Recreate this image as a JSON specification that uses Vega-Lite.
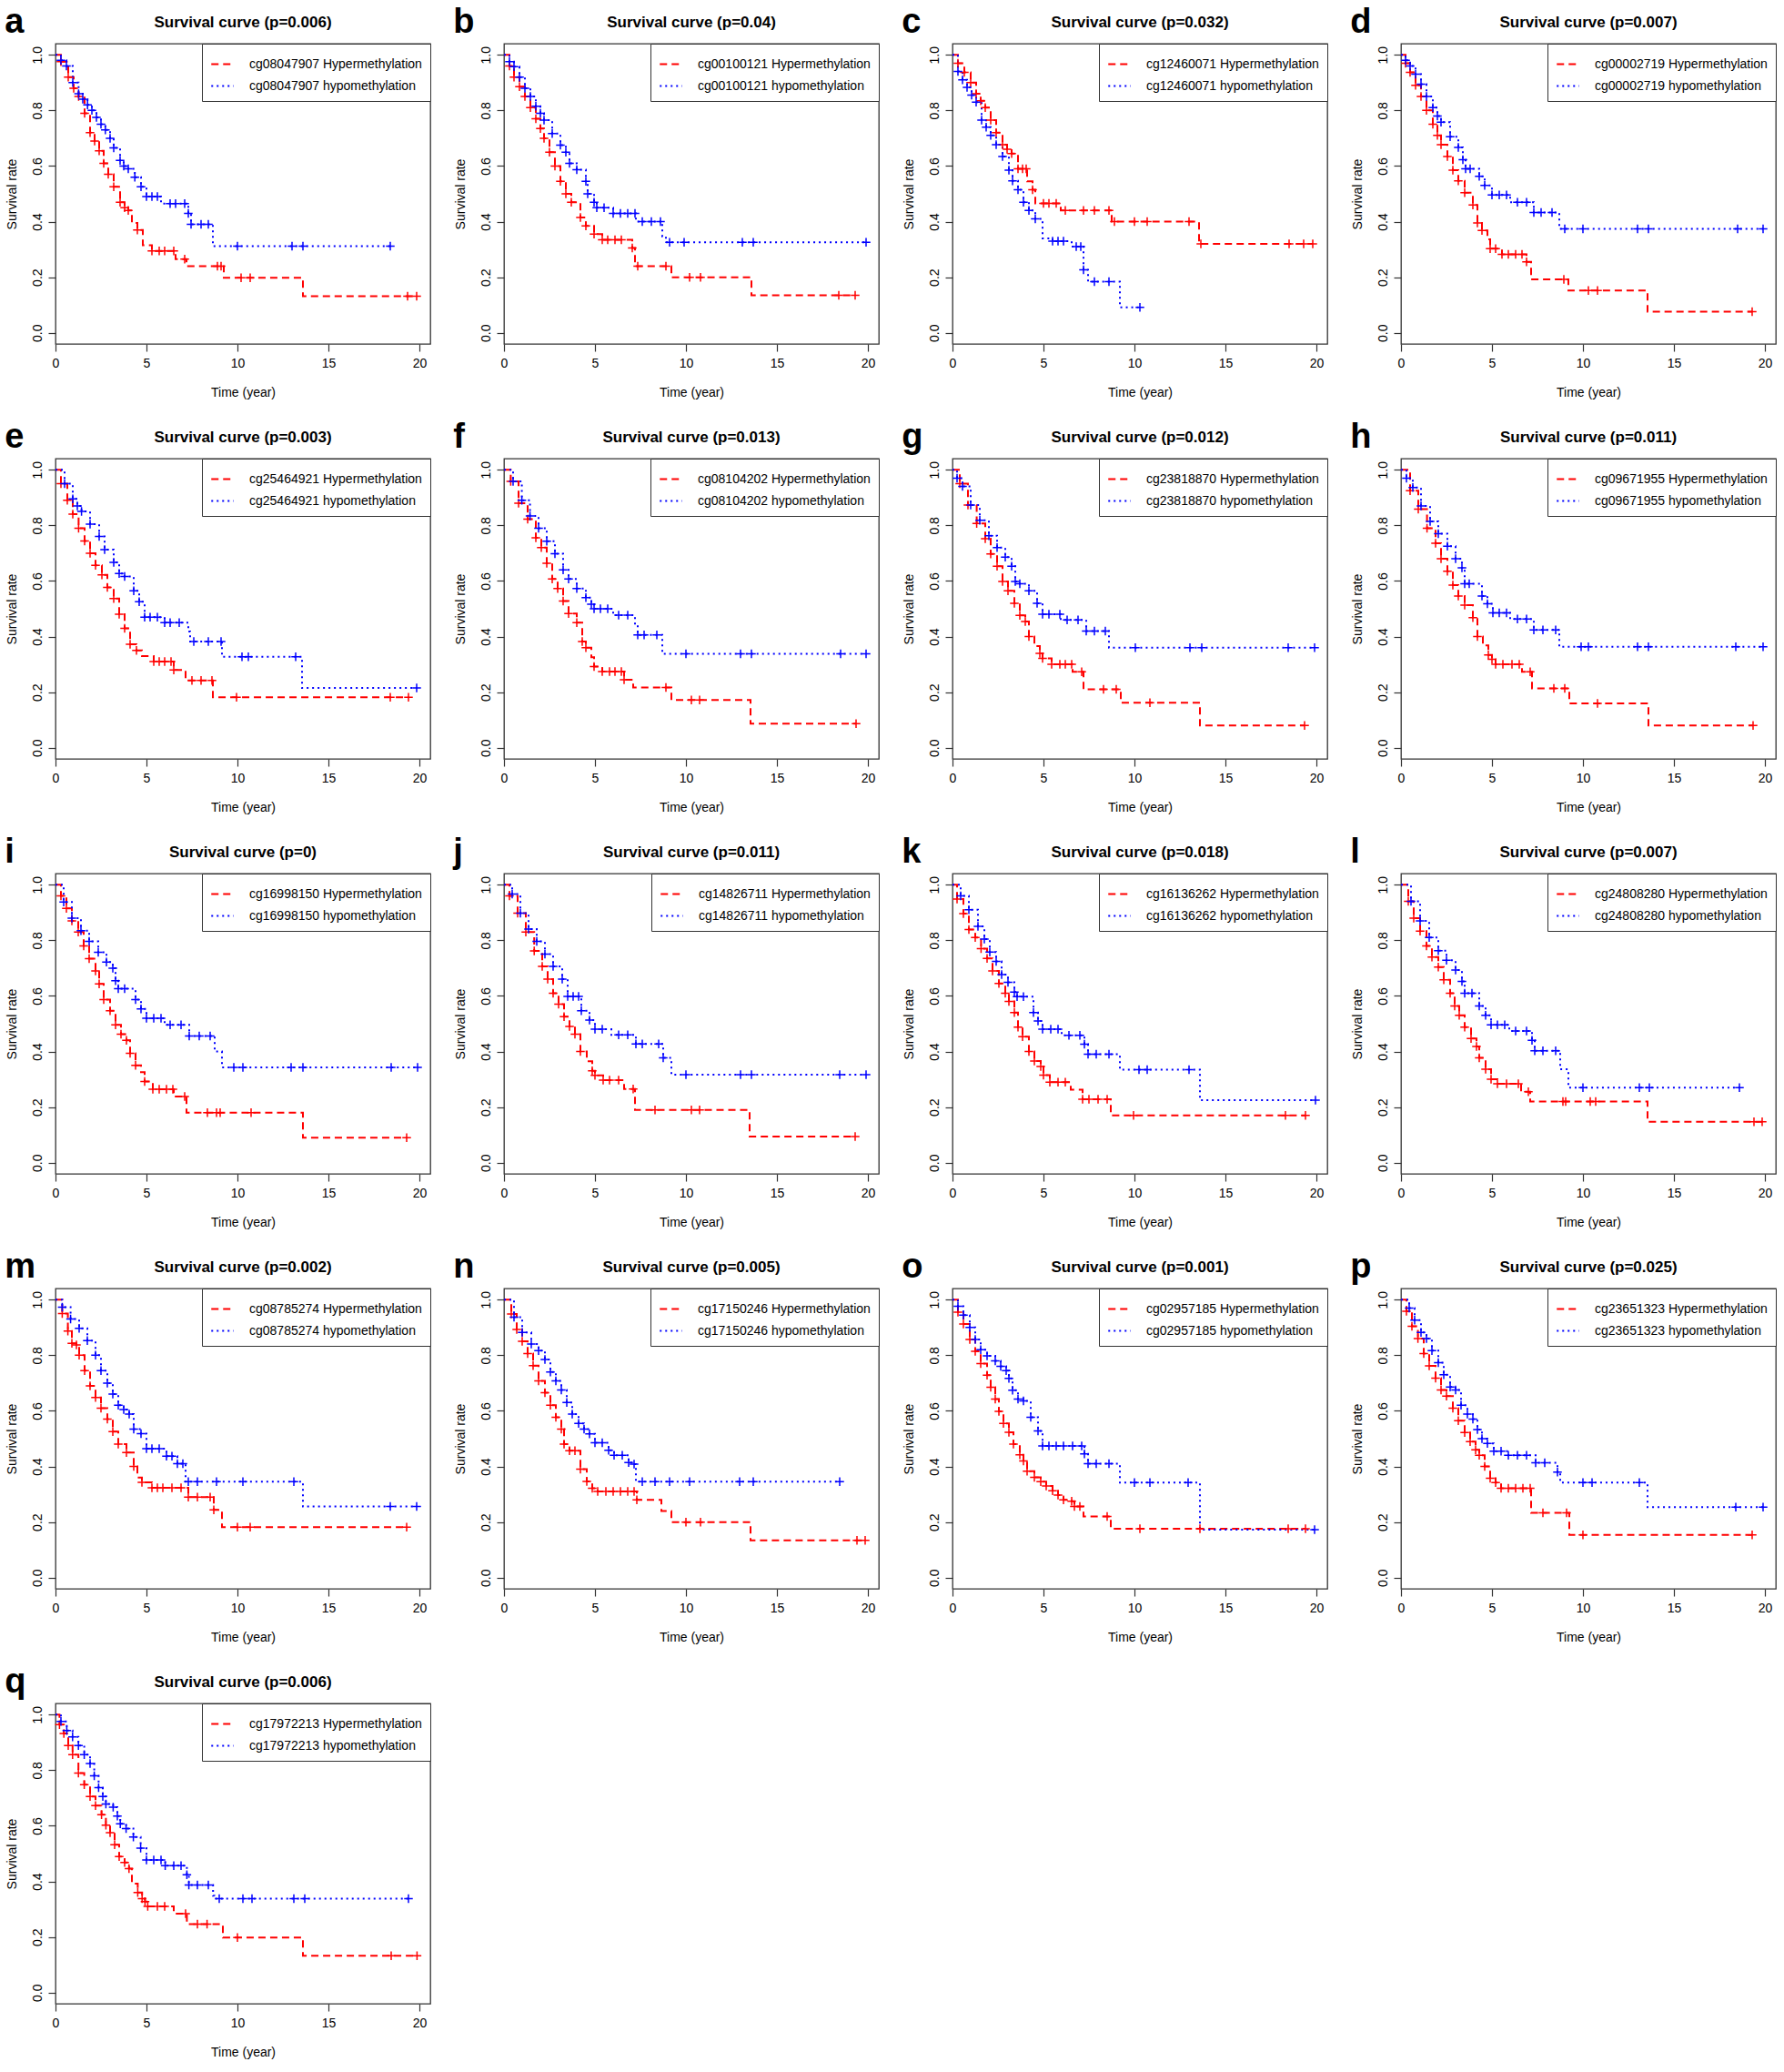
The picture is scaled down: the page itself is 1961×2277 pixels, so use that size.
{
"$schema": "https://vega.github.io/schema/vega-lite/v6.json",
"background": "white",
"padding": 5,
"config": {
  "font": "Liberation Sans",
  "view": {"stroke": "#333", "strokeWidth": 1.3},
  "title": {"font": "Liberation Sans", "fontSize": 17, "fontWeight": "bold", "color": "black", "offset": 14, "anchor": "middle"},
  "axis": {"grid": false, "domain": false, "tickColor": "#333", "tickSize": 8, "tickWidth": 1.2, "labelFont": "Liberation Sans", "labelFontSize": 14, "labelColor": "black", "titleFont": "Liberation Sans", "titleFontSize": 14, "titleFontWeight": "normal", "titleColor": "black"},
  "axisX": {"labelPadding": 6, "titlePadding": 18, "tickCount": 5, "labelFlush": false},
  "axisY": {"labelAngle": -90, "labelAlign": "center", "labelBaseline": "bottom", "labelPadding": 5, "titlePadding": 14, "tickCount": 6, "labelFlush": false},
  "legend": {"orient": "top-right", "offset": 0, "padding": 9, "strokeColor": "#333", "fillColor": "white", "symbolType": "stroke", "symbolSize": 600, "symbolStrokeWidth": 2, "labelFont": "Liberation Sans", "labelFontSize": 14, "labelColor": "black", "labelOffset": 16, "rowPadding": 3, "labelLimit": 400}
},
"data": {"values": [
{"p":"a","g":"H","t":0,"s":1,"c":0},{"p":"a","g":"H","t":0.3,"s":0.975,"c":1},{"p":"a","g":"H","t":0.7,"s":0.92,"c":1},{"p":"a","g":"H","t":1.0,"s":0.88,"c":1},{"p":"a","g":"H","t":1.27,"s":0.85,"c":1},{"p":"a","g":"H","t":1.6,"s":0.79,"c":1},{"p":"a","g":"H","t":1.9,"s":0.72,"c":1},{"p":"a","g":"H","t":2.15,"s":0.69,"c":1},{"p":"a","g":"H","t":2.4,"s":0.655,"c":1},{"p":"a","g":"H","t":2.65,"s":0.61,"c":1},{"p":"a","g":"H","t":2.9,"s":0.57,"c":1},{"p":"a","g":"H","t":3.2,"s":0.525,"c":1},{"p":"a","g":"H","t":3.55,"s":0.47,"c":1},{"p":"a","g":"H","t":3.8,"s":0.45,"c":1},{"p":"a","g":"H","t":4.0,"s":0.44,"c":1},{"p":"a","g":"H","t":4.2,"s":0.395,"c":0},{"p":"a","g":"H","t":4.5,"s":0.37,"c":1},{"p":"a","g":"H","t":4.8,"s":0.315,"c":0},{"p":"a","g":"H","t":5.3,"s":0.295,"c":1},{"p":"a","g":"H","t":5.7,"s":0.295,"c":1},{"p":"a","g":"H","t":6.0,"s":0.295,"c":1},{"p":"a","g":"H","t":6.5,"s":0.295,"c":1},{"p":"a","g":"H","t":6.6,"s":0.265,"c":0},{"p":"a","g":"H","t":7.1,"s":0.265,"c":1},{"p":"a","g":"H","t":7.2,"s":0.24,"c":0},{"p":"a","g":"H","t":8.9,"s":0.24,"c":1},{"p":"a","g":"H","t":9.1,"s":0.24,"c":1},{"p":"a","g":"H","t":9.25,"s":0.198,"c":0},{"p":"a","g":"H","t":10.2,"s":0.198,"c":1},{"p":"a","g":"H","t":10.7,"s":0.198,"c":1},{"p":"a","g":"H","t":13.6,"s":0.132,"c":0},{"p":"a","g":"H","t":19.35,"s":0.132,"c":1},{"p":"a","g":"H","t":19.85,"s":0.132,"c":1},
{"p":"a","g":"L","t":0,"s":1,"c":0},{"p":"a","g":"L","t":0.3,"s":0.98,"c":1},{"p":"a","g":"L","t":0.6,"s":0.96,"c":1},{"p":"a","g":"L","t":0.95,"s":0.9,"c":1},{"p":"a","g":"L","t":1.27,"s":0.86,"c":1},{"p":"a","g":"L","t":1.5,"s":0.84,"c":1},{"p":"a","g":"L","t":1.76,"s":0.82,"c":1},{"p":"a","g":"L","t":2.0,"s":0.8,"c":1},{"p":"a","g":"L","t":2.25,"s":0.775,"c":1},{"p":"a","g":"L","t":2.5,"s":0.75,"c":1},{"p":"a","g":"L","t":2.74,"s":0.73,"c":1},{"p":"a","g":"L","t":3.0,"s":0.7,"c":1},{"p":"a","g":"L","t":3.2,"s":0.665,"c":1},{"p":"a","g":"L","t":3.55,"s":0.62,"c":1},{"p":"a","g":"L","t":3.75,"s":0.6,"c":1},{"p":"a","g":"L","t":4.0,"s":0.59,"c":1},{"p":"a","g":"L","t":4.36,"s":0.56,"c":1},{"p":"a","g":"L","t":4.7,"s":0.525,"c":1},{"p":"a","g":"L","t":5.0,"s":0.49,"c":1},{"p":"a","g":"L","t":5.3,"s":0.49,"c":1},{"p":"a","g":"L","t":5.6,"s":0.49,"c":1},{"p":"a","g":"L","t":5.8,"s":0.465,"c":0},{"p":"a","g":"L","t":6.3,"s":0.465,"c":1},{"p":"a","g":"L","t":6.6,"s":0.465,"c":1},{"p":"a","g":"L","t":7.1,"s":0.465,"c":1},{"p":"a","g":"L","t":7.3,"s":0.43,"c":1},{"p":"a","g":"L","t":7.45,"s":0.39,"c":1},{"p":"a","g":"L","t":8.0,"s":0.39,"c":1},{"p":"a","g":"L","t":8.4,"s":0.39,"c":1},{"p":"a","g":"L","t":8.65,"s":0.312,"c":0},{"p":"a","g":"L","t":10.0,"s":0.312,"c":1},{"p":"a","g":"L","t":13.0,"s":0.312,"c":1},{"p":"a","g":"L","t":13.6,"s":0.312,"c":1},{"p":"a","g":"L","t":18.4,"s":0.312,"c":1},

{"p":"b","g":"H","t":0,"s":1,"c":0},{"p":"b","g":"H","t":0.3,"s":0.96,"c":1},{"p":"b","g":"H","t":0.55,"s":0.92,"c":1},{"p":"b","g":"H","t":0.85,"s":0.885,"c":1},{"p":"b","g":"H","t":1.15,"s":0.85,"c":1},{"p":"b","g":"H","t":1.45,"s":0.81,"c":1},{"p":"b","g":"H","t":1.75,"s":0.77,"c":1},{"p":"b","g":"H","t":2.0,"s":0.735,"c":1},{"p":"b","g":"H","t":2.2,"s":0.7,"c":1},{"p":"b","g":"H","t":2.5,"s":0.65,"c":1},{"p":"b","g":"H","t":2.8,"s":0.6,"c":1},{"p":"b","g":"H","t":3.1,"s":0.545,"c":1},{"p":"b","g":"H","t":3.4,"s":0.5,"c":1},{"p":"b","g":"H","t":3.7,"s":0.47,"c":1},{"p":"b","g":"H","t":4.2,"s":0.415,"c":1},{"p":"b","g":"H","t":4.5,"s":0.385,"c":1},{"p":"b","g":"H","t":4.95,"s":0.355,"c":1},{"p":"b","g":"H","t":5.4,"s":0.335,"c":1},{"p":"b","g":"H","t":5.7,"s":0.335,"c":1},{"p":"b","g":"H","t":6.1,"s":0.335,"c":1},{"p":"b","g":"H","t":6.45,"s":0.335,"c":1},{"p":"b","g":"H","t":7.05,"s":0.305,"c":1},{"p":"b","g":"H","t":7.2,"s":0.24,"c":0},{"p":"b","g":"H","t":7.35,"s":0.24,"c":1},{"p":"b","g":"H","t":8.9,"s":0.24,"c":1},{"p":"b","g":"H","t":9.2,"s":0.2,"c":0},{"p":"b","g":"H","t":10.2,"s":0.2,"c":1},{"p":"b","g":"H","t":10.8,"s":0.2,"c":1},{"p":"b","g":"H","t":13.6,"s":0.135,"c":0},{"p":"b","g":"H","t":18.4,"s":0.135,"c":1},{"p":"b","g":"H","t":19.3,"s":0.135,"c":1},
{"p":"b","g":"L","t":0,"s":1,"c":0},{"p":"b","g":"L","t":0.3,"s":0.975,"c":1},{"p":"b","g":"L","t":0.55,"s":0.957,"c":1},{"p":"b","g":"L","t":0.85,"s":0.92,"c":1},{"p":"b","g":"L","t":1.15,"s":0.88,"c":1},{"p":"b","g":"L","t":1.45,"s":0.85,"c":1},{"p":"b","g":"L","t":1.75,"s":0.815,"c":1},{"p":"b","g":"L","t":2.0,"s":0.79,"c":1},{"p":"b","g":"L","t":2.2,"s":0.765,"c":1},{"p":"b","g":"L","t":2.65,"s":0.717,"c":1},{"p":"b","g":"L","t":3.1,"s":0.675,"c":1},{"p":"b","g":"L","t":3.4,"s":0.65,"c":1},{"p":"b","g":"L","t":3.6,"s":0.61,"c":1},{"p":"b","g":"L","t":4.0,"s":0.587,"c":1},{"p":"b","g":"L","t":4.5,"s":0.545,"c":1},{"p":"b","g":"L","t":4.6,"s":0.5,"c":1},{"p":"b","g":"L","t":4.95,"s":0.47,"c":1},{"p":"b","g":"L","t":5.1,"s":0.45,"c":1},{"p":"b","g":"L","t":5.5,"s":0.45,"c":1},{"p":"b","g":"L","t":6.0,"s":0.43,"c":1},{"p":"b","g":"L","t":6.4,"s":0.43,"c":1},{"p":"b","g":"L","t":6.8,"s":0.43,"c":1},{"p":"b","g":"L","t":7.2,"s":0.43,"c":1},{"p":"b","g":"L","t":7.25,"s":0.4,"c":0},{"p":"b","g":"L","t":7.6,"s":0.4,"c":1},{"p":"b","g":"L","t":8.1,"s":0.4,"c":1},{"p":"b","g":"L","t":8.6,"s":0.4,"c":1},{"p":"b","g":"L","t":8.7,"s":0.347,"c":0},{"p":"b","g":"L","t":8.9,"s":0.326,"c":0},{"p":"b","g":"L","t":9.1,"s":0.326,"c":1},{"p":"b","g":"L","t":9.9,"s":0.326,"c":1},{"p":"b","g":"L","t":13.1,"s":0.326,"c":1},{"p":"b","g":"L","t":13.7,"s":0.326,"c":1},{"p":"b","g":"L","t":19.9,"s":0.326,"c":1},

{"p":"c","g":"H","t":0,"s":1,"c":0},{"p":"c","g":"H","t":0.3,"s":0.97,"c":1},{"p":"c","g":"H","t":0.65,"s":0.937,"c":1},{"p":"c","g":"H","t":1.0,"s":0.9,"c":1},{"p":"c","g":"H","t":1.3,"s":0.86,"c":1},{"p":"c","g":"H","t":1.55,"s":0.835,"c":1},{"p":"c","g":"H","t":1.8,"s":0.81,"c":1},{"p":"c","g":"H","t":2.1,"s":0.765,"c":1},{"p":"c","g":"H","t":2.4,"s":0.72,"c":1},{"p":"c","g":"H","t":2.75,"s":0.677,"c":1},{"p":"c","g":"H","t":3.0,"s":0.66,"c":1},{"p":"c","g":"H","t":3.25,"s":0.645,"c":1},{"p":"c","g":"H","t":3.6,"s":0.59,"c":1},{"p":"c","g":"H","t":3.85,"s":0.59,"c":1},{"p":"c","g":"H","t":4.05,"s":0.59,"c":1},{"p":"c","g":"H","t":4.1,"s":0.545,"c":0},{"p":"c","g":"H","t":4.4,"s":0.515,"c":1},{"p":"c","g":"H","t":4.55,"s":0.466,"c":0},{"p":"c","g":"H","t":5.0,"s":0.466,"c":1},{"p":"c","g":"H","t":5.3,"s":0.466,"c":1},{"p":"c","g":"H","t":5.7,"s":0.466,"c":1},{"p":"c","g":"H","t":5.95,"s":0.44,"c":0},{"p":"c","g":"H","t":6.2,"s":0.44,"c":1},{"p":"c","g":"H","t":7.2,"s":0.44,"c":1},{"p":"c","g":"H","t":7.8,"s":0.44,"c":1},{"p":"c","g":"H","t":8.6,"s":0.44,"c":1},{"p":"c","g":"H","t":8.75,"s":0.4,"c":0},{"p":"c","g":"H","t":8.9,"s":0.4,"c":1},{"p":"c","g":"H","t":10.0,"s":0.4,"c":1},{"p":"c","g":"H","t":10.7,"s":0.4,"c":1},{"p":"c","g":"H","t":13.0,"s":0.4,"c":1},{"p":"c","g":"H","t":13.55,"s":0.32,"c":0},{"p":"c","g":"H","t":13.65,"s":0.32,"c":1},{"p":"c","g":"H","t":18.5,"s":0.32,"c":1},{"p":"c","g":"H","t":19.3,"s":0.32,"c":1},{"p":"c","g":"H","t":19.8,"s":0.32,"c":1},
{"p":"c","g":"L","t":0,"s":1,"c":0},{"p":"c","g":"L","t":0.3,"s":0.94,"c":1},{"p":"c","g":"L","t":0.55,"s":0.91,"c":1},{"p":"c","g":"L","t":0.8,"s":0.883,"c":1},{"p":"c","g":"L","t":1.05,"s":0.855,"c":1},{"p":"c","g":"L","t":1.3,"s":0.83,"c":1},{"p":"c","g":"L","t":1.6,"s":0.765,"c":1},{"p":"c","g":"L","t":1.85,"s":0.74,"c":1},{"p":"c","g":"L","t":2.1,"s":0.71,"c":1},{"p":"c","g":"L","t":2.4,"s":0.677,"c":1},{"p":"c","g":"L","t":2.75,"s":0.634,"c":1},{"p":"c","g":"L","t":3.1,"s":0.585,"c":1},{"p":"c","g":"L","t":3.3,"s":0.547,"c":1},{"p":"c","g":"L","t":3.6,"s":0.515,"c":1},{"p":"c","g":"L","t":3.9,"s":0.47,"c":1},{"p":"c","g":"L","t":4.2,"s":0.44,"c":1},{"p":"c","g":"L","t":4.55,"s":0.41,"c":1},{"p":"c","g":"L","t":4.95,"s":0.34,"c":0},{"p":"c","g":"L","t":5.5,"s":0.33,"c":1},{"p":"c","g":"L","t":5.8,"s":0.33,"c":1},{"p":"c","g":"L","t":6.1,"s":0.33,"c":1},{"p":"c","g":"L","t":6.55,"s":0.31,"c":0},{"p":"c","g":"L","t":6.8,"s":0.31,"c":1},{"p":"c","g":"L","t":7.05,"s":0.31,"c":1},{"p":"c","g":"L","t":7.2,"s":0.227,"c":1},{"p":"c","g":"L","t":7.45,"s":0.184,"c":0},{"p":"c","g":"L","t":7.8,"s":0.184,"c":1},{"p":"c","g":"L","t":8.6,"s":0.184,"c":1},{"p":"c","g":"L","t":9.2,"s":0.092,"c":0},{"p":"c","g":"L","t":10.3,"s":0.092,"c":1},

{"p":"d","g":"H","t":0,"s":1,"c":0},{"p":"d","g":"H","t":0.25,"s":0.97,"c":1},{"p":"d","g":"H","t":0.5,"s":0.937,"c":1},{"p":"d","g":"H","t":0.8,"s":0.89,"c":1},{"p":"d","g":"H","t":1.1,"s":0.85,"c":1},{"p":"d","g":"H","t":1.4,"s":0.8,"c":1},{"p":"d","g":"H","t":1.75,"s":0.75,"c":1},{"p":"d","g":"H","t":2.0,"s":0.71,"c":1},{"p":"d","g":"H","t":2.2,"s":0.677,"c":1},{"p":"d","g":"H","t":2.55,"s":0.634,"c":1},{"p":"d","g":"H","t":2.85,"s":0.585,"c":1},{"p":"d","g":"H","t":3.15,"s":0.547,"c":1},{"p":"d","g":"H","t":3.5,"s":0.504,"c":1},{"p":"d","g":"H","t":3.95,"s":0.46,"c":1},{"p":"d","g":"H","t":4.2,"s":0.395,"c":1},{"p":"d","g":"H","t":4.45,"s":0.368,"c":1},{"p":"d","g":"H","t":4.75,"s":0.336,"c":0},{"p":"d","g":"H","t":4.9,"s":0.303,"c":1},{"p":"d","g":"H","t":5.2,"s":0.303,"c":1},{"p":"d","g":"H","t":5.55,"s":0.282,"c":1},{"p":"d","g":"H","t":5.9,"s":0.282,"c":1},{"p":"d","g":"H","t":6.3,"s":0.282,"c":1},{"p":"d","g":"H","t":6.65,"s":0.282,"c":1},{"p":"d","g":"H","t":6.9,"s":0.255,"c":1},{"p":"d","g":"H","t":7.15,"s":0.192,"c":0},{"p":"d","g":"H","t":8.95,"s":0.192,"c":1},{"p":"d","g":"H","t":9.2,"s":0.152,"c":0},{"p":"d","g":"H","t":10.3,"s":0.152,"c":1},{"p":"d","g":"H","t":10.8,"s":0.152,"c":1},{"p":"d","g":"H","t":13.55,"s":0.076,"c":0},{"p":"d","g":"H","t":19.3,"s":0.076,"c":1},
{"p":"d","g":"L","t":0,"s":1,"c":0},{"p":"d","g":"L","t":0.25,"s":0.98,"c":1},{"p":"d","g":"L","t":0.5,"s":0.96,"c":1},{"p":"d","g":"L","t":0.8,"s":0.93,"c":1},{"p":"d","g":"L","t":1.1,"s":0.894,"c":1},{"p":"d","g":"L","t":1.4,"s":0.85,"c":1},{"p":"d","g":"L","t":1.75,"s":0.81,"c":1},{"p":"d","g":"L","t":2.0,"s":0.78,"c":1},{"p":"d","g":"L","t":2.2,"s":0.758,"c":1},{"p":"d","g":"L","t":2.7,"s":0.705,"c":1},{"p":"d","g":"L","t":3.15,"s":0.667,"c":1},{"p":"d","g":"L","t":3.4,"s":0.623,"c":1},{"p":"d","g":"L","t":3.55,"s":0.59,"c":1},{"p":"d","g":"L","t":3.8,"s":0.59,"c":1},{"p":"d","g":"L","t":4.3,"s":0.563,"c":1},{"p":"d","g":"L","t":4.6,"s":0.53,"c":1},{"p":"d","g":"L","t":5.0,"s":0.496,"c":1},{"p":"d","g":"L","t":5.4,"s":0.496,"c":1},{"p":"d","g":"L","t":5.8,"s":0.496,"c":1},{"p":"d","g":"L","t":6.0,"s":0.47,"c":0},{"p":"d","g":"L","t":6.4,"s":0.47,"c":1},{"p":"d","g":"L","t":6.9,"s":0.47,"c":1},{"p":"d","g":"L","t":7.3,"s":0.433,"c":1},{"p":"d","g":"L","t":7.7,"s":0.433,"c":1},{"p":"d","g":"L","t":8.3,"s":0.433,"c":1},{"p":"d","g":"L","t":8.7,"s":0.374,"c":0},{"p":"d","g":"L","t":9.0,"s":0.374,"c":1},{"p":"d","g":"L","t":10.0,"s":0.374,"c":1},{"p":"d","g":"L","t":13.0,"s":0.374,"c":1},{"p":"d","g":"L","t":13.6,"s":0.374,"c":1},{"p":"d","g":"L","t":18.5,"s":0.374,"c":1},{"p":"d","g":"L","t":19.9,"s":0.374,"c":1},

{"p":"e","g":"H","t":0,"s":1,"c":0},{"p":"e","g":"H","t":0.3,"s":0.95,"c":1},{"p":"e","g":"H","t":0.65,"s":0.89,"c":1},{"p":"e","g":"H","t":0.95,"s":0.84,"c":1},{"p":"e","g":"H","t":1.27,"s":0.79,"c":1},{"p":"e","g":"H","t":1.6,"s":0.744,"c":1},{"p":"e","g":"H","t":1.9,"s":0.7,"c":1},{"p":"e","g":"H","t":2.2,"s":0.656,"c":1},{"p":"e","g":"H","t":2.55,"s":0.622,"c":1},{"p":"e","g":"H","t":2.85,"s":0.577,"c":1},{"p":"e","g":"H","t":3.2,"s":0.537,"c":1},{"p":"e","g":"H","t":3.5,"s":0.48,"c":1},{"p":"e","g":"H","t":3.8,"s":0.43,"c":1},{"p":"e","g":"H","t":4.1,"s":0.372,"c":1},{"p":"e","g":"H","t":4.45,"s":0.35,"c":1},{"p":"e","g":"H","t":4.75,"s":0.33,"c":0},{"p":"e","g":"H","t":5.4,"s":0.31,"c":1},{"p":"e","g":"H","t":5.7,"s":0.31,"c":1},{"p":"e","g":"H","t":6.0,"s":0.31,"c":1},{"p":"e","g":"H","t":6.35,"s":0.31,"c":1},{"p":"e","g":"H","t":6.5,"s":0.28,"c":1},{"p":"e","g":"H","t":7.15,"s":0.242,"c":0},{"p":"e","g":"H","t":7.5,"s":0.242,"c":1},{"p":"e","g":"H","t":8.0,"s":0.242,"c":1},{"p":"e","g":"H","t":8.6,"s":0.242,"c":1},{"p":"e","g":"H","t":8.65,"s":0.182,"c":0},{"p":"e","g":"H","t":9.95,"s":0.182,"c":1},{"p":"e","g":"H","t":18.4,"s":0.182,"c":1},{"p":"e","g":"H","t":19.4,"s":0.182,"c":1},
{"p":"e","g":"L","t":0,"s":1,"c":0},{"p":"e","g":"L","t":0.5,"s":0.95,"c":1},{"p":"e","g":"L","t":0.95,"s":0.895,"c":1},{"p":"e","g":"L","t":1.2,"s":0.87,"c":1},{"p":"e","g":"L","t":1.43,"s":0.85,"c":1},{"p":"e","g":"L","t":1.9,"s":0.804,"c":1},{"p":"e","g":"L","t":2.4,"s":0.76,"c":1},{"p":"e","g":"L","t":2.7,"s":0.713,"c":1},{"p":"e","g":"L","t":3.2,"s":0.667,"c":1},{"p":"e","g":"L","t":3.5,"s":0.627,"c":1},{"p":"e","g":"L","t":3.8,"s":0.616,"c":1},{"p":"e","g":"L","t":4.3,"s":0.565,"c":1},{"p":"e","g":"L","t":4.6,"s":0.525,"c":1},{"p":"e","g":"L","t":4.9,"s":0.47,"c":1},{"p":"e","g":"L","t":5.2,"s":0.47,"c":1},{"p":"e","g":"L","t":5.6,"s":0.47,"c":1},{"p":"e","g":"L","t":6.0,"s":0.45,"c":1},{"p":"e","g":"L","t":6.3,"s":0.45,"c":1},{"p":"e","g":"L","t":6.8,"s":0.45,"c":1},{"p":"e","g":"L","t":7.3,"s":0.418,"c":0},{"p":"e","g":"L","t":7.4,"s":0.382,"c":0},{"p":"e","g":"L","t":7.6,"s":0.382,"c":1},{"p":"e","g":"L","t":8.4,"s":0.382,"c":1},{"p":"e","g":"L","t":9.1,"s":0.382,"c":1},{"p":"e","g":"L","t":9.15,"s":0.327,"c":0},{"p":"e","g":"L","t":10.25,"s":0.327,"c":1},{"p":"e","g":"L","t":10.6,"s":0.327,"c":1},{"p":"e","g":"L","t":13.2,"s":0.327,"c":1},{"p":"e","g":"L","t":13.55,"s":0.215,"c":0},{"p":"e","g":"L","t":19.85,"s":0.215,"c":1},

{"p":"f","g":"H","t":0,"s":1,"c":0},{"p":"f","g":"H","t":0.37,"s":0.958,"c":1},{"p":"f","g":"H","t":0.8,"s":0.88,"c":1},{"p":"f","g":"H","t":1.3,"s":0.822,"c":1},{"p":"f","g":"H","t":1.75,"s":0.755,"c":1},{"p":"f","g":"H","t":2.05,"s":0.72,"c":1},{"p":"f","g":"H","t":2.35,"s":0.664,"c":1},{"p":"f","g":"H","t":2.65,"s":0.607,"c":1},{"p":"f","g":"H","t":2.95,"s":0.573,"c":1},{"p":"f","g":"H","t":3.25,"s":0.528,"c":1},{"p":"f","g":"H","t":3.55,"s":0.483,"c":1},{"p":"f","g":"H","t":4.0,"s":0.45,"c":1},{"p":"f","g":"H","t":4.3,"s":0.382,"c":1},{"p":"f","g":"H","t":4.5,"s":0.36,"c":1},{"p":"f","g":"H","t":4.8,"s":0.326,"c":0},{"p":"f","g":"H","t":4.95,"s":0.292,"c":1},{"p":"f","g":"H","t":5.4,"s":0.274,"c":1},{"p":"f","g":"H","t":5.8,"s":0.274,"c":1},{"p":"f","g":"H","t":6.1,"s":0.274,"c":1},{"p":"f","g":"H","t":6.45,"s":0.274,"c":1},{"p":"f","g":"H","t":6.6,"s":0.245,"c":1},{"p":"f","g":"H","t":7.1,"s":0.217,"c":0},{"p":"f","g":"H","t":8.9,"s":0.217,"c":1},{"p":"f","g":"H","t":9.2,"s":0.172,"c":0},{"p":"f","g":"H","t":10.3,"s":0.172,"c":1},{"p":"f","g":"H","t":10.75,"s":0.172,"c":1},{"p":"f","g":"H","t":13.55,"s":0.087,"c":0},{"p":"f","g":"H","t":19.35,"s":0.087,"c":1},
{"p":"f","g":"L","t":0,"s":1,"c":0},{"p":"f","g":"L","t":0.5,"s":0.958,"c":1},{"p":"f","g":"L","t":0.98,"s":0.89,"c":1},{"p":"f","g":"L","t":1.43,"s":0.834,"c":1},{"p":"f","g":"L","t":1.9,"s":0.79,"c":1},{"p":"f","g":"L","t":2.35,"s":0.743,"c":1},{"p":"f","g":"L","t":2.8,"s":0.698,"c":1},{"p":"f","g":"L","t":3.25,"s":0.64,"c":1},{"p":"f","g":"L","t":3.55,"s":0.607,"c":1},{"p":"f","g":"L","t":4.0,"s":0.573,"c":1},{"p":"f","g":"L","t":4.5,"s":0.54,"c":1},{"p":"f","g":"L","t":4.8,"s":0.516,"c":1},{"p":"f","g":"L","t":4.95,"s":0.5,"c":1},{"p":"f","g":"L","t":5.3,"s":0.5,"c":1},{"p":"f","g":"L","t":5.7,"s":0.5,"c":1},{"p":"f","g":"L","t":6.0,"s":0.477,"c":0},{"p":"f","g":"L","t":6.3,"s":0.477,"c":1},{"p":"f","g":"L","t":6.8,"s":0.477,"c":1},{"p":"f","g":"L","t":7.2,"s":0.443,"c":0},{"p":"f","g":"L","t":7.35,"s":0.406,"c":1},{"p":"f","g":"L","t":7.7,"s":0.406,"c":1},{"p":"f","g":"L","t":8.4,"s":0.406,"c":1},{"p":"f","g":"L","t":8.7,"s":0.338,"c":0},{"p":"f","g":"L","t":10.0,"s":0.338,"c":1},{"p":"f","g":"L","t":13.0,"s":0.338,"c":1},{"p":"f","g":"L","t":13.6,"s":0.338,"c":1},{"p":"f","g":"L","t":18.5,"s":0.338,"c":1},{"p":"f","g":"L","t":19.9,"s":0.338,"c":1},

{"p":"g","g":"H","t":0,"s":1,"c":0},{"p":"g","g":"H","t":0.4,"s":0.95,"c":1},{"p":"g","g":"H","t":0.85,"s":0.873,"c":1},{"p":"g","g":"H","t":1.33,"s":0.807,"c":1},{"p":"g","g":"H","t":1.8,"s":0.752,"c":1},{"p":"g","g":"H","t":2.1,"s":0.697,"c":1},{"p":"g","g":"H","t":2.45,"s":0.653,"c":1},{"p":"g","g":"H","t":2.75,"s":0.598,"c":1},{"p":"g","g":"H","t":3.05,"s":0.565,"c":1},{"p":"g","g":"H","t":3.4,"s":0.52,"c":1},{"p":"g","g":"H","t":3.7,"s":0.476,"c":1},{"p":"g","g":"H","t":4.0,"s":0.454,"c":1},{"p":"g","g":"H","t":4.2,"s":0.4,"c":1},{"p":"g","g":"H","t":4.5,"s":0.366,"c":0},{"p":"g","g":"H","t":4.8,"s":0.34,"c":1},{"p":"g","g":"H","t":4.95,"s":0.322,"c":1},{"p":"g","g":"H","t":5.45,"s":0.3,"c":1},{"p":"g","g":"H","t":5.9,"s":0.3,"c":1},{"p":"g","g":"H","t":6.2,"s":0.3,"c":1},{"p":"g","g":"H","t":6.55,"s":0.3,"c":1},{"p":"g","g":"H","t":6.6,"s":0.273,"c":0},{"p":"g","g":"H","t":7.1,"s":0.273,"c":1},{"p":"g","g":"H","t":7.2,"s":0.21,"c":0},{"p":"g","g":"H","t":8.3,"s":0.21,"c":1},{"p":"g","g":"H","t":9.0,"s":0.21,"c":1},{"p":"g","g":"H","t":9.25,"s":0.162,"c":0},{"p":"g","g":"H","t":10.85,"s":0.162,"c":1},{"p":"g","g":"H","t":13.6,"s":0.08,"c":0},{"p":"g","g":"H","t":19.35,"s":0.08,"c":1},
{"p":"g","g":"L","t":0,"s":1,"c":0},{"p":"g","g":"L","t":0.25,"s":0.97,"c":1},{"p":"g","g":"L","t":0.55,"s":0.94,"c":1},{"p":"g","g":"L","t":1.0,"s":0.873,"c":1},{"p":"g","g":"L","t":1.5,"s":0.818,"c":1},{"p":"g","g":"L","t":2.0,"s":0.763,"c":1},{"p":"g","g":"L","t":2.45,"s":0.72,"c":1},{"p":"g","g":"L","t":2.9,"s":0.686,"c":1},{"p":"g","g":"L","t":3.25,"s":0.653,"c":1},{"p":"g","g":"L","t":3.45,"s":0.598,"c":1},{"p":"g","g":"L","t":3.7,"s":0.59,"c":1},{"p":"g","g":"L","t":4.2,"s":0.565,"c":1},{"p":"g","g":"L","t":4.65,"s":0.52,"c":1},{"p":"g","g":"L","t":4.95,"s":0.48,"c":1},{"p":"g","g":"L","t":5.3,"s":0.48,"c":1},{"p":"g","g":"L","t":5.9,"s":0.48,"c":1},{"p":"g","g":"L","t":5.95,"s":0.46,"c":0},{"p":"g","g":"L","t":6.3,"s":0.46,"c":1},{"p":"g","g":"L","t":6.9,"s":0.46,"c":1},{"p":"g","g":"L","t":7.35,"s":0.42,"c":1},{"p":"g","g":"L","t":7.8,"s":0.42,"c":1},{"p":"g","g":"L","t":8.4,"s":0.42,"c":1},{"p":"g","g":"L","t":8.6,"s":0.36,"c":0},{"p":"g","g":"L","t":10.05,"s":0.36,"c":1},{"p":"g","g":"L","t":13.05,"s":0.36,"c":1},{"p":"g","g":"L","t":13.7,"s":0.36,"c":1},{"p":"g","g":"L","t":18.45,"s":0.36,"c":1},{"p":"g","g":"L","t":19.9,"s":0.36,"c":1},

{"p":"h","g":"H","t":0,"s":1,"c":0},{"p":"h","g":"H","t":0.5,"s":0.925,"c":1},{"p":"h","g":"H","t":0.95,"s":0.858,"c":1},{"p":"h","g":"H","t":1.43,"s":0.79,"c":1},{"p":"h","g":"H","t":1.9,"s":0.736,"c":1},{"p":"h","g":"H","t":2.2,"s":0.68,"c":1},{"p":"h","g":"H","t":2.55,"s":0.635,"c":1},{"p":"h","g":"H","t":2.85,"s":0.585,"c":1},{"p":"h","g":"H","t":3.15,"s":0.546,"c":1},{"p":"h","g":"H","t":3.5,"s":0.513,"c":1},{"p":"h","g":"H","t":3.95,"s":0.468,"c":1},{"p":"h","g":"H","t":4.2,"s":0.4,"c":1},{"p":"h","g":"H","t":4.5,"s":0.368,"c":0},{"p":"h","g":"H","t":4.8,"s":0.334,"c":1},{"p":"h","g":"H","t":5.0,"s":0.318,"c":1},{"p":"h","g":"H","t":5.2,"s":0.3,"c":1},{"p":"h","g":"H","t":5.6,"s":0.3,"c":1},{"p":"h","g":"H","t":6.1,"s":0.3,"c":1},{"p":"h","g":"H","t":6.5,"s":0.3,"c":1},{"p":"h","g":"H","t":6.65,"s":0.273,"c":0},{"p":"h","g":"H","t":7.1,"s":0.273,"c":1},{"p":"h","g":"H","t":7.2,"s":0.214,"c":0},{"p":"h","g":"H","t":8.4,"s":0.214,"c":1},{"p":"h","g":"H","t":9.0,"s":0.214,"c":1},{"p":"h","g":"H","t":9.25,"s":0.16,"c":0},{"p":"h","g":"H","t":10.8,"s":0.16,"c":1},{"p":"h","g":"H","t":13.6,"s":0.08,"c":0},{"p":"h","g":"H","t":19.35,"s":0.08,"c":1},
{"p":"h","g":"L","t":0,"s":1,"c":0},{"p":"h","g":"L","t":0.3,"s":0.97,"c":1},{"p":"h","g":"L","t":0.65,"s":0.936,"c":1},{"p":"h","g":"L","t":1.1,"s":0.87,"c":1},{"p":"h","g":"L","t":1.6,"s":0.814,"c":1},{"p":"h","g":"L","t":2.05,"s":0.77,"c":1},{"p":"h","g":"L","t":2.55,"s":0.725,"c":1},{"p":"h","g":"L","t":3.0,"s":0.68,"c":1},{"p":"h","g":"L","t":3.35,"s":0.647,"c":1},{"p":"h","g":"L","t":3.5,"s":0.59,"c":1},{"p":"h","g":"L","t":3.75,"s":0.59,"c":1},{"p":"h","g":"L","t":4.45,"s":0.546,"c":1},{"p":"h","g":"L","t":4.75,"s":0.518,"c":1},{"p":"h","g":"L","t":5.05,"s":0.485,"c":1},{"p":"h","g":"L","t":5.4,"s":0.485,"c":1},{"p":"h","g":"L","t":5.8,"s":0.485,"c":1},{"p":"h","g":"L","t":6.0,"s":0.463,"c":0},{"p":"h","g":"L","t":6.4,"s":0.463,"c":1},{"p":"h","g":"L","t":6.9,"s":0.463,"c":1},{"p":"h","g":"L","t":7.3,"s":0.424,"c":1},{"p":"h","g":"L","t":7.8,"s":0.424,"c":1},{"p":"h","g":"L","t":8.5,"s":0.424,"c":1},{"p":"h","g":"L","t":8.7,"s":0.363,"c":0},{"p":"h","g":"L","t":9.9,"s":0.363,"c":1},{"p":"h","g":"L","t":10.3,"s":0.363,"c":1},{"p":"h","g":"L","t":13.0,"s":0.363,"c":1},{"p":"h","g":"L","t":13.6,"s":0.363,"c":1},{"p":"h","g":"L","t":18.4,"s":0.363,"c":1},{"p":"h","g":"L","t":19.9,"s":0.363,"c":1},

{"p":"i","g":"H","t":0,"s":1,"c":0},{"p":"i","g":"H","t":0.3,"s":0.96,"c":1},{"p":"i","g":"H","t":0.6,"s":0.915,"c":1},{"p":"i","g":"H","t":0.9,"s":0.87,"c":1},{"p":"i","g":"H","t":1.25,"s":0.83,"c":1},{"p":"i","g":"H","t":1.55,"s":0.78,"c":1},{"p":"i","g":"H","t":1.85,"s":0.734,"c":1},{"p":"i","g":"H","t":2.2,"s":0.69,"c":1},{"p":"i","g":"H","t":2.4,"s":0.643,"c":1},{"p":"i","g":"H","t":2.65,"s":0.587,"c":1},{"p":"i","g":"H","t":3.0,"s":0.547,"c":1},{"p":"i","g":"H","t":3.3,"s":0.496,"c":1},{"p":"i","g":"H","t":3.6,"s":0.462,"c":1},{"p":"i","g":"H","t":3.9,"s":0.44,"c":1},{"p":"i","g":"H","t":4.1,"s":0.394,"c":1},{"p":"i","g":"H","t":4.4,"s":0.35,"c":1},{"p":"i","g":"H","t":4.7,"s":0.326,"c":0},{"p":"i","g":"H","t":4.9,"s":0.292,"c":1},{"p":"i","g":"H","t":5.35,"s":0.264,"c":1},{"p":"i","g":"H","t":5.7,"s":0.264,"c":1},{"p":"i","g":"H","t":6.1,"s":0.264,"c":1},{"p":"i","g":"H","t":6.45,"s":0.264,"c":1},{"p":"i","g":"H","t":6.5,"s":0.238,"c":0},{"p":"i","g":"H","t":7.1,"s":0.238,"c":1},{"p":"i","g":"H","t":7.2,"s":0.18,"c":0},{"p":"i","g":"H","t":8.35,"s":0.18,"c":1},{"p":"i","g":"H","t":8.85,"s":0.18,"c":1},{"p":"i","g":"H","t":9.05,"s":0.18,"c":1},{"p":"i","g":"H","t":10.75,"s":0.18,"c":1},{"p":"i","g":"H","t":13.6,"s":0.09,"c":0},{"p":"i","g":"H","t":19.3,"s":0.09,"c":1},
{"p":"i","g":"L","t":0,"s":1,"c":0},{"p":"i","g":"L","t":0.45,"s":0.938,"c":1},{"p":"i","g":"L","t":0.9,"s":0.88,"c":1},{"p":"i","g":"L","t":1.4,"s":0.835,"c":1},{"p":"i","g":"L","t":1.85,"s":0.796,"c":1},{"p":"i","g":"L","t":2.35,"s":0.757,"c":1},{"p":"i","g":"L","t":2.8,"s":0.722,"c":1},{"p":"i","g":"L","t":3.15,"s":0.7,"c":1},{"p":"i","g":"L","t":3.3,"s":0.655,"c":1},{"p":"i","g":"L","t":3.45,"s":0.626,"c":1},{"p":"i","g":"L","t":3.8,"s":0.626,"c":1},{"p":"i","g":"L","t":4.4,"s":0.587,"c":1},{"p":"i","g":"L","t":4.7,"s":0.553,"c":1},{"p":"i","g":"L","t":5.0,"s":0.52,"c":1},{"p":"i","g":"L","t":5.4,"s":0.52,"c":1},{"p":"i","g":"L","t":5.8,"s":0.52,"c":1},{"p":"i","g":"L","t":6.0,"s":0.496,"c":0},{"p":"i","g":"L","t":6.3,"s":0.496,"c":1},{"p":"i","g":"L","t":6.9,"s":0.496,"c":1},{"p":"i","g":"L","t":7.35,"s":0.456,"c":1},{"p":"i","g":"L","t":7.9,"s":0.456,"c":1},{"p":"i","g":"L","t":8.5,"s":0.456,"c":1},{"p":"i","g":"L","t":8.75,"s":0.4,"c":0},{"p":"i","g":"L","t":9.15,"s":0.343,"c":0},{"p":"i","g":"L","t":9.8,"s":0.343,"c":1},{"p":"i","g":"L","t":10.3,"s":0.343,"c":1},{"p":"i","g":"L","t":12.95,"s":0.343,"c":1},{"p":"i","g":"L","t":13.6,"s":0.343,"c":1},{"p":"i","g":"L","t":18.45,"s":0.343,"c":1},{"p":"i","g":"L","t":19.9,"s":0.343,"c":1},

{"p":"j","g":"H","t":0,"s":1,"c":0},{"p":"j","g":"H","t":0.3,"s":0.96,"c":1},{"p":"j","g":"H","t":0.75,"s":0.898,"c":1},{"p":"j","g":"H","t":1.2,"s":0.83,"c":1},{"p":"j","g":"H","t":1.66,"s":0.762,"c":1},{"p":"j","g":"H","t":2.1,"s":0.706,"c":1},{"p":"j","g":"H","t":2.4,"s":0.66,"c":1},{"p":"j","g":"H","t":2.7,"s":0.61,"c":1},{"p":"j","g":"H","t":3.0,"s":0.57,"c":1},{"p":"j","g":"H","t":3.3,"s":0.525,"c":1},{"p":"j","g":"H","t":3.6,"s":0.49,"c":1},{"p":"j","g":"H","t":3.9,"s":0.462,"c":1},{"p":"j","g":"H","t":4.2,"s":0.4,"c":1},{"p":"j","g":"H","t":4.55,"s":0.365,"c":0},{"p":"j","g":"H","t":4.85,"s":0.331,"c":1},{"p":"j","g":"H","t":5.0,"s":0.314,"c":1},{"p":"j","g":"H","t":5.45,"s":0.297,"c":1},{"p":"j","g":"H","t":5.8,"s":0.297,"c":1},{"p":"j","g":"H","t":6.3,"s":0.297,"c":1},{"p":"j","g":"H","t":6.6,"s":0.265,"c":0},{"p":"j","g":"H","t":7.1,"s":0.265,"c":1},{"p":"j","g":"H","t":7.2,"s":0.19,"c":0},{"p":"j","g":"H","t":8.3,"s":0.19,"c":1},{"p":"j","g":"H","t":10.3,"s":0.19,"c":1},{"p":"j","g":"H","t":10.75,"s":0.19,"c":1},{"p":"j","g":"H","t":13.5,"s":0.094,"c":0},{"p":"j","g":"H","t":19.3,"s":0.094,"c":1},
{"p":"j","g":"L","t":0,"s":1,"c":0},{"p":"j","g":"L","t":0.45,"s":0.966,"c":1},{"p":"j","g":"L","t":0.9,"s":0.898,"c":1},{"p":"j","g":"L","t":1.35,"s":0.84,"c":1},{"p":"j","g":"L","t":1.8,"s":0.796,"c":1},{"p":"j","g":"L","t":2.25,"s":0.75,"c":1},{"p":"j","g":"L","t":2.7,"s":0.706,"c":1},{"p":"j","g":"L","t":3.2,"s":0.66,"c":1},{"p":"j","g":"L","t":3.5,"s":0.598,"c":1},{"p":"j","g":"L","t":3.8,"s":0.598,"c":1},{"p":"j","g":"L","t":4.1,"s":0.598,"c":1},{"p":"j","g":"L","t":4.25,"s":0.547,"c":1},{"p":"j","g":"L","t":4.7,"s":0.513,"c":1},{"p":"j","g":"L","t":5.0,"s":0.48,"c":1},{"p":"j","g":"L","t":5.4,"s":0.48,"c":1},{"p":"j","g":"L","t":5.9,"s":0.46,"c":0},{"p":"j","g":"L","t":6.3,"s":0.46,"c":1},{"p":"j","g":"L","t":6.8,"s":0.46,"c":1},{"p":"j","g":"L","t":7.25,"s":0.427,"c":1},{"p":"j","g":"L","t":7.6,"s":0.427,"c":1},{"p":"j","g":"L","t":8.5,"s":0.427,"c":1},{"p":"j","g":"L","t":8.75,"s":0.377,"c":1},{"p":"j","g":"L","t":9.2,"s":0.317,"c":0},{"p":"j","g":"L","t":10.0,"s":0.317,"c":1},{"p":"j","g":"L","t":13.0,"s":0.317,"c":1},{"p":"j","g":"L","t":13.6,"s":0.317,"c":1},{"p":"j","g":"L","t":18.45,"s":0.317,"c":1},{"p":"j","g":"L","t":19.9,"s":0.317,"c":1},

{"p":"k","g":"H","t":0,"s":1,"c":0},{"p":"k","g":"H","t":0.25,"s":0.948,"c":1},{"p":"k","g":"H","t":0.6,"s":0.896,"c":1},{"p":"k","g":"H","t":0.9,"s":0.839,"c":1},{"p":"k","g":"H","t":1.25,"s":0.81,"c":1},{"p":"k","g":"H","t":1.57,"s":0.77,"c":1},{"p":"k","g":"H","t":1.9,"s":0.735,"c":1},{"p":"k","g":"H","t":2.2,"s":0.69,"c":1},{"p":"k","g":"H","t":2.55,"s":0.645,"c":1},{"p":"k","g":"H","t":2.9,"s":0.61,"c":1},{"p":"k","g":"H","t":3.1,"s":0.58,"c":1},{"p":"k","g":"H","t":3.4,"s":0.54,"c":1},{"p":"k","g":"H","t":3.6,"s":0.488,"c":1},{"p":"k","g":"H","t":3.85,"s":0.453,"c":1},{"p":"k","g":"H","t":4.2,"s":0.4,"c":1},{"p":"k","g":"H","t":4.5,"s":0.366,"c":1},{"p":"k","g":"H","t":4.85,"s":0.346,"c":1},{"p":"k","g":"H","t":5.0,"s":0.315,"c":1},{"p":"k","g":"H","t":5.35,"s":0.29,"c":1},{"p":"k","g":"H","t":5.8,"s":0.29,"c":1},{"p":"k","g":"H","t":6.2,"s":0.29,"c":1},{"p":"k","g":"H","t":6.5,"s":0.263,"c":0},{"p":"k","g":"H","t":7.15,"s":0.228,"c":1},{"p":"k","g":"H","t":7.5,"s":0.228,"c":1},{"p":"k","g":"H","t":8.0,"s":0.228,"c":1},{"p":"k","g":"H","t":8.5,"s":0.228,"c":1},{"p":"k","g":"H","t":8.7,"s":0.17,"c":0},{"p":"k","g":"H","t":9.95,"s":0.17,"c":1},{"p":"k","g":"H","t":18.3,"s":0.17,"c":1},{"p":"k","g":"H","t":19.4,"s":0.17,"c":1},
{"p":"k","g":"L","t":0,"s":1,"c":0},{"p":"k","g":"L","t":0.45,"s":0.96,"c":1},{"p":"k","g":"L","t":0.9,"s":0.91,"c":1},{"p":"k","g":"L","t":1.4,"s":0.85,"c":1},{"p":"k","g":"L","t":1.75,"s":0.804,"c":1},{"p":"k","g":"L","t":2.05,"s":0.758,"c":1},{"p":"k","g":"L","t":2.4,"s":0.724,"c":1},{"p":"k","g":"L","t":2.7,"s":0.677,"c":1},{"p":"k","g":"L","t":3.05,"s":0.649,"c":1},{"p":"k","g":"L","t":3.4,"s":0.614,"c":1},{"p":"k","g":"L","t":3.55,"s":0.597,"c":1},{"p":"k","g":"L","t":3.9,"s":0.597,"c":1},{"p":"k","g":"L","t":4.45,"s":0.54,"c":1},{"p":"k","g":"L","t":4.7,"s":0.51,"c":1},{"p":"k","g":"L","t":4.95,"s":0.48,"c":1},{"p":"k","g":"L","t":5.4,"s":0.48,"c":1},{"p":"k","g":"L","t":5.8,"s":0.48,"c":1},{"p":"k","g":"L","t":6.0,"s":0.458,"c":0},{"p":"k","g":"L","t":6.4,"s":0.458,"c":1},{"p":"k","g":"L","t":7.0,"s":0.458,"c":1},{"p":"k","g":"L","t":7.25,"s":0.426,"c":1},{"p":"k","g":"L","t":7.45,"s":0.39,"c":1},{"p":"k","g":"L","t":7.9,"s":0.39,"c":1},{"p":"k","g":"L","t":8.6,"s":0.39,"c":1},{"p":"k","g":"L","t":9.2,"s":0.335,"c":0},{"p":"k","g":"L","t":10.25,"s":0.335,"c":1},{"p":"k","g":"L","t":10.7,"s":0.335,"c":1},{"p":"k","g":"L","t":13.0,"s":0.335,"c":1},{"p":"k","g":"L","t":13.6,"s":0.225,"c":0},{"p":"k","g":"L","t":19.95,"s":0.225,"c":1},

{"p":"l","g":"H","t":0,"s":1,"c":0},{"p":"l","g":"H","t":0.4,"s":0.94,"c":1},{"p":"l","g":"H","t":0.7,"s":0.88,"c":1},{"p":"l","g":"H","t":1.05,"s":0.833,"c":1},{"p":"l","g":"H","t":1.4,"s":0.78,"c":1},{"p":"l","g":"H","t":1.7,"s":0.74,"c":1},{"p":"l","g":"H","t":2.05,"s":0.704,"c":1},{"p":"l","g":"H","t":2.35,"s":0.658,"c":1},{"p":"l","g":"H","t":2.7,"s":0.61,"c":1},{"p":"l","g":"H","t":2.95,"s":0.564,"c":1},{"p":"l","g":"H","t":3.2,"s":0.53,"c":1},{"p":"l","g":"H","t":3.5,"s":0.488,"c":1},{"p":"l","g":"H","t":3.85,"s":0.447,"c":1},{"p":"l","g":"H","t":4.15,"s":0.418,"c":1},{"p":"l","g":"H","t":4.3,"s":0.377,"c":1},{"p":"l","g":"H","t":4.65,"s":0.336,"c":1},{"p":"l","g":"H","t":4.95,"s":0.3,"c":1},{"p":"l","g":"H","t":5.3,"s":0.284,"c":1},{"p":"l","g":"H","t":5.8,"s":0.284,"c":1},{"p":"l","g":"H","t":6.45,"s":0.284,"c":1},{"p":"l","g":"H","t":6.6,"s":0.255,"c":0},{"p":"l","g":"H","t":7.0,"s":0.255,"c":1},{"p":"l","g":"H","t":7.1,"s":0.22,"c":0},{"p":"l","g":"H","t":8.9,"s":0.22,"c":1},{"p":"l","g":"H","t":9.05,"s":0.22,"c":1},{"p":"l","g":"H","t":10.4,"s":0.22,"c":1},{"p":"l","g":"H","t":10.7,"s":0.22,"c":1},{"p":"l","g":"H","t":13.55,"s":0.147,"c":0},{"p":"l","g":"H","t":19.4,"s":0.147,"c":1},{"p":"l","g":"H","t":19.85,"s":0.147,"c":1},
{"p":"l","g":"L","t":0,"s":1,"c":0},{"p":"l","g":"L","t":0.55,"s":0.94,"c":1},{"p":"l","g":"L","t":1.05,"s":0.87,"c":1},{"p":"l","g":"L","t":1.55,"s":0.81,"c":1},{"p":"l","g":"L","t":2.05,"s":0.763,"c":1},{"p":"l","g":"L","t":2.5,"s":0.728,"c":1},{"p":"l","g":"L","t":3.0,"s":0.693,"c":1},{"p":"l","g":"L","t":3.35,"s":0.652,"c":1},{"p":"l","g":"L","t":3.5,"s":0.61,"c":1},{"p":"l","g":"L","t":3.9,"s":0.61,"c":1},{"p":"l","g":"L","t":4.3,"s":0.564,"c":1},{"p":"l","g":"L","t":4.65,"s":0.53,"c":1},{"p":"l","g":"L","t":4.95,"s":0.496,"c":1},{"p":"l","g":"L","t":5.3,"s":0.496,"c":1},{"p":"l","g":"L","t":5.7,"s":0.496,"c":1},{"p":"l","g":"L","t":5.95,"s":0.474,"c":0},{"p":"l","g":"L","t":6.3,"s":0.474,"c":1},{"p":"l","g":"L","t":6.9,"s":0.474,"c":1},{"p":"l","g":"L","t":7.2,"s":0.44,"c":1},{"p":"l","g":"L","t":7.35,"s":0.403,"c":1},{"p":"l","g":"L","t":7.8,"s":0.403,"c":1},{"p":"l","g":"L","t":8.5,"s":0.403,"c":1},{"p":"l","g":"L","t":8.75,"s":0.336,"c":0},{"p":"l","g":"L","t":9.2,"s":0.27,"c":0},{"p":"l","g":"L","t":10.0,"s":0.27,"c":1},{"p":"l","g":"L","t":13.1,"s":0.27,"c":1},{"p":"l","g":"L","t":13.65,"s":0.27,"c":1},{"p":"l","g":"L","t":18.6,"s":0.27,"c":1},

{"p":"m","g":"H","t":0,"s":1,"c":0},{"p":"m","g":"H","t":0.37,"s":0.95,"c":1},{"p":"m","g":"H","t":0.68,"s":0.887,"c":1},{"p":"m","g":"H","t":0.9,"s":0.843,"c":1},{"p":"m","g":"H","t":1.15,"s":0.837,"c":1},{"p":"m","g":"H","t":1.3,"s":0.8,"c":1},{"p":"m","g":"H","t":1.6,"s":0.745,"c":1},{"p":"m","g":"H","t":1.9,"s":0.69,"c":1},{"p":"m","g":"H","t":2.2,"s":0.648,"c":1},{"p":"m","g":"H","t":2.5,"s":0.61,"c":1},{"p":"m","g":"H","t":2.85,"s":0.57,"c":1},{"p":"m","g":"H","t":3.15,"s":0.525,"c":1},{"p":"m","g":"H","t":3.45,"s":0.48,"c":1},{"p":"m","g":"H","t":3.9,"s":0.45,"c":1},{"p":"m","g":"H","t":4.3,"s":0.4,"c":1},{"p":"m","g":"H","t":4.5,"s":0.36,"c":0},{"p":"m","g":"H","t":4.75,"s":0.343,"c":1},{"p":"m","g":"H","t":5.3,"s":0.323,"c":1},{"p":"m","g":"H","t":5.6,"s":0.323,"c":1},{"p":"m","g":"H","t":5.9,"s":0.323,"c":1},{"p":"m","g":"H","t":6.4,"s":0.323,"c":1},{"p":"m","g":"H","t":6.9,"s":0.323,"c":1},{"p":"m","g":"H","t":7.3,"s":0.29,"c":1},{"p":"m","g":"H","t":7.8,"s":0.29,"c":1},{"p":"m","g":"H","t":8.5,"s":0.29,"c":1},{"p":"m","g":"H","t":8.7,"s":0.244,"c":1},{"p":"m","g":"H","t":9.15,"s":0.182,"c":0},{"p":"m","g":"H","t":10.0,"s":0.182,"c":1},{"p":"m","g":"H","t":10.7,"s":0.182,"c":1},{"p":"m","g":"H","t":19.3,"s":0.182,"c":1},
{"p":"m","g":"L","t":0,"s":1,"c":0},{"p":"m","g":"L","t":0.37,"s":0.973,"c":1},{"p":"m","g":"L","t":0.83,"s":0.93,"c":1},{"p":"m","g":"L","t":1.3,"s":0.897,"c":1},{"p":"m","g":"L","t":1.75,"s":0.853,"c":1},{"p":"m","g":"L","t":2.2,"s":0.8,"c":1},{"p":"m","g":"L","t":2.5,"s":0.745,"c":1},{"p":"m","g":"L","t":2.85,"s":0.7,"c":1},{"p":"m","g":"L","t":3.15,"s":0.66,"c":1},{"p":"m","g":"L","t":3.45,"s":0.62,"c":1},{"p":"m","g":"L","t":3.75,"s":0.605,"c":1},{"p":"m","g":"L","t":4.05,"s":0.588,"c":1},{"p":"m","g":"L","t":4.3,"s":0.534,"c":1},{"p":"m","g":"L","t":4.7,"s":0.518,"c":1},{"p":"m","g":"L","t":5.0,"s":0.464,"c":1},{"p":"m","g":"L","t":5.3,"s":0.464,"c":1},{"p":"m","g":"L","t":5.7,"s":0.464,"c":1},{"p":"m","g":"L","t":6.1,"s":0.437,"c":1},{"p":"m","g":"L","t":6.4,"s":0.437,"c":1},{"p":"m","g":"L","t":6.7,"s":0.41,"c":1},{"p":"m","g":"L","t":7.0,"s":0.41,"c":1},{"p":"m","g":"L","t":7.15,"s":0.345,"c":0},{"p":"m","g":"L","t":7.3,"s":0.345,"c":1},{"p":"m","g":"L","t":7.8,"s":0.345,"c":1},{"p":"m","g":"L","t":8.85,"s":0.345,"c":1},{"p":"m","g":"L","t":10.3,"s":0.345,"c":1},{"p":"m","g":"L","t":13.1,"s":0.345,"c":1},{"p":"m","g":"L","t":13.6,"s":0.256,"c":0},{"p":"m","g":"L","t":18.4,"s":0.256,"c":1},{"p":"m","g":"L","t":19.85,"s":0.256,"c":1},

{"p":"n","g":"H","t":0,"s":1,"c":0},{"p":"n","g":"H","t":0.4,"s":0.948,"c":1},{"p":"n","g":"H","t":0.7,"s":0.893,"c":1},{"p":"n","g":"H","t":1.0,"s":0.85,"c":1},{"p":"n","g":"H","t":1.3,"s":0.806,"c":1},{"p":"n","g":"H","t":1.6,"s":0.763,"c":1},{"p":"n","g":"H","t":1.9,"s":0.708,"c":1},{"p":"n","g":"H","t":2.25,"s":0.665,"c":1},{"p":"n","g":"H","t":2.55,"s":0.62,"c":1},{"p":"n","g":"H","t":2.85,"s":0.577,"c":1},{"p":"n","g":"H","t":3.15,"s":0.534,"c":1},{"p":"n","g":"H","t":3.3,"s":0.48,"c":1},{"p":"n","g":"H","t":3.6,"s":0.457,"c":1},{"p":"n","g":"H","t":3.9,"s":0.457,"c":1},{"p":"n","g":"H","t":4.2,"s":0.39,"c":1},{"p":"n","g":"H","t":4.55,"s":0.346,"c":1},{"p":"n","g":"H","t":4.85,"s":0.322,"c":1},{"p":"n","g":"H","t":5.15,"s":0.31,"c":1},{"p":"n","g":"H","t":5.6,"s":0.31,"c":1},{"p":"n","g":"H","t":6.0,"s":0.31,"c":1},{"p":"n","g":"H","t":6.4,"s":0.31,"c":1},{"p":"n","g":"H","t":6.8,"s":0.31,"c":1},{"p":"n","g":"H","t":7.15,"s":0.31,"c":1},{"p":"n","g":"H","t":7.3,"s":0.28,"c":1},{"p":"n","g":"H","t":8.65,"s":0.24,"c":0},{"p":"n","g":"H","t":9.2,"s":0.2,"c":0},{"p":"n","g":"H","t":10.0,"s":0.2,"c":1},{"p":"n","g":"H","t":10.8,"s":0.2,"c":1},{"p":"n","g":"H","t":13.55,"s":0.134,"c":0},{"p":"n","g":"H","t":19.4,"s":0.134,"c":1},{"p":"n","g":"H","t":19.85,"s":0.134,"c":1},
{"p":"n","g":"L","t":0,"s":1,"c":0},{"p":"n","g":"L","t":0.55,"s":0.937,"c":1},{"p":"n","g":"L","t":1.0,"s":0.882,"c":1},{"p":"n","g":"L","t":1.5,"s":0.84,"c":1},{"p":"n","g":"L","t":1.9,"s":0.817,"c":1},{"p":"n","g":"L","t":2.25,"s":0.785,"c":1},{"p":"n","g":"L","t":2.55,"s":0.74,"c":1},{"p":"n","g":"L","t":2.85,"s":0.708,"c":1},{"p":"n","g":"L","t":3.15,"s":0.675,"c":1},{"p":"n","g":"L","t":3.45,"s":0.63,"c":1},{"p":"n","g":"L","t":3.75,"s":0.588,"c":1},{"p":"n","g":"L","t":4.1,"s":0.555,"c":1},{"p":"n","g":"L","t":4.4,"s":0.534,"c":1},{"p":"n","g":"L","t":4.7,"s":0.517,"c":1},{"p":"n","g":"L","t":5.0,"s":0.485,"c":1},{"p":"n","g":"L","t":5.4,"s":0.485,"c":1},{"p":"n","g":"L","t":5.75,"s":0.458,"c":1},{"p":"n","g":"L","t":6.05,"s":0.44,"c":1},{"p":"n","g":"L","t":6.5,"s":0.44,"c":1},{"p":"n","g":"L","t":6.85,"s":0.414,"c":1},{"p":"n","g":"L","t":7.15,"s":0.408,"c":1},{"p":"n","g":"L","t":7.25,"s":0.345,"c":0},{"p":"n","g":"L","t":7.6,"s":0.345,"c":1},{"p":"n","g":"L","t":8.3,"s":0.345,"c":1},{"p":"n","g":"L","t":9.1,"s":0.345,"c":1},{"p":"n","g":"L","t":10.2,"s":0.345,"c":1},{"p":"n","g":"L","t":12.95,"s":0.345,"c":1},{"p":"n","g":"L","t":13.7,"s":0.345,"c":1},{"p":"n","g":"L","t":18.45,"s":0.345,"c":1},

{"p":"o","g":"H","t":0,"s":1,"c":0},{"p":"o","g":"H","t":0.3,"s":0.955,"c":1},{"p":"o","g":"H","t":0.6,"s":0.912,"c":1},{"p":"o","g":"H","t":0.95,"s":0.857,"c":1},{"p":"o","g":"H","t":1.25,"s":0.814,"c":1},{"p":"o","g":"H","t":1.55,"s":0.77,"c":1},{"p":"o","g":"H","t":1.9,"s":0.728,"c":1},{"p":"o","g":"H","t":2.1,"s":0.685,"c":1},{"p":"o","g":"H","t":2.35,"s":0.642,"c":1},{"p":"o","g":"H","t":2.55,"s":0.598,"c":1},{"p":"o","g":"H","t":2.8,"s":0.555,"c":1},{"p":"o","g":"H","t":3.1,"s":0.523,"c":1},{"p":"o","g":"H","t":3.35,"s":0.48,"c":1},{"p":"o","g":"H","t":3.7,"s":0.442,"c":1},{"p":"o","g":"H","t":3.9,"s":0.42,"c":1},{"p":"o","g":"H","t":4.1,"s":0.383,"c":1},{"p":"o","g":"H","t":4.5,"s":0.361,"c":1},{"p":"o","g":"H","t":4.85,"s":0.345,"c":1},{"p":"o","g":"H","t":5.15,"s":0.33,"c":1},{"p":"o","g":"H","t":5.5,"s":0.313,"c":1},{"p":"o","g":"H","t":5.8,"s":0.297,"c":1},{"p":"o","g":"H","t":6.1,"s":0.28,"c":1},{"p":"o","g":"H","t":6.55,"s":0.275,"c":1},{"p":"o","g":"H","t":6.7,"s":0.256,"c":1},{"p":"o","g":"H","t":7.0,"s":0.256,"c":1},{"p":"o","g":"H","t":7.2,"s":0.22,"c":0},{"p":"o","g":"H","t":8.5,"s":0.22,"c":1},{"p":"o","g":"H","t":8.7,"s":0.176,"c":0},{"p":"o","g":"H","t":10.3,"s":0.176,"c":1},{"p":"o","g":"H","t":13.6,"s":0.176,"c":1},{"p":"o","g":"H","t":18.45,"s":0.176,"c":1},{"p":"o","g":"H","t":19.4,"s":0.176,"c":1},
{"p":"o","g":"L","t":0,"s":1,"c":0},{"p":"o","g":"L","t":0.3,"s":0.976,"c":1},{"p":"o","g":"L","t":0.6,"s":0.944,"c":1},{"p":"o","g":"L","t":0.95,"s":0.9,"c":1},{"p":"o","g":"L","t":1.25,"s":0.857,"c":1},{"p":"o","g":"L","t":1.55,"s":0.82,"c":1},{"p":"o","g":"L","t":1.9,"s":0.798,"c":1},{"p":"o","g":"L","t":2.35,"s":0.78,"c":1},{"p":"o","g":"L","t":2.65,"s":0.76,"c":1},{"p":"o","g":"L","t":2.95,"s":0.745,"c":1},{"p":"o","g":"L","t":3.1,"s":0.717,"c":1},{"p":"o","g":"L","t":3.3,"s":0.674,"c":1},{"p":"o","g":"L","t":3.6,"s":0.642,"c":1},{"p":"o","g":"L","t":3.9,"s":0.636,"c":1},{"p":"o","g":"L","t":4.3,"s":0.577,"c":1},{"p":"o","g":"L","t":4.7,"s":0.528,"c":1},{"p":"o","g":"L","t":4.95,"s":0.474,"c":1},{"p":"o","g":"L","t":5.3,"s":0.474,"c":1},{"p":"o","g":"L","t":5.7,"s":0.474,"c":1},{"p":"o","g":"L","t":6.1,"s":0.474,"c":1},{"p":"o","g":"L","t":6.6,"s":0.474,"c":1},{"p":"o","g":"L","t":7.1,"s":0.474,"c":1},{"p":"o","g":"L","t":7.25,"s":0.445,"c":1},{"p":"o","g":"L","t":7.45,"s":0.41,"c":1},{"p":"o","g":"L","t":7.9,"s":0.41,"c":1},{"p":"o","g":"L","t":8.6,"s":0.41,"c":1},{"p":"o","g":"L","t":9.2,"s":0.342,"c":0},{"p":"o","g":"L","t":10.0,"s":0.342,"c":1},{"p":"o","g":"L","t":10.85,"s":0.342,"c":1},{"p":"o","g":"L","t":12.95,"s":0.342,"c":1},{"p":"o","g":"L","t":13.6,"s":0.173,"c":0},{"p":"o","g":"L","t":19.9,"s":0.173,"c":1},

{"p":"p","g":"H","t":0,"s":1,"c":0},{"p":"p","g":"H","t":0.3,"s":0.958,"c":1},{"p":"p","g":"H","t":0.6,"s":0.904,"c":1},{"p":"p","g":"H","t":0.93,"s":0.86,"c":1},{"p":"p","g":"H","t":1.25,"s":0.806,"c":1},{"p":"p","g":"H","t":1.55,"s":0.762,"c":1},{"p":"p","g":"H","t":1.9,"s":0.718,"c":1},{"p":"p","g":"H","t":2.2,"s":0.675,"c":1},{"p":"p","g":"H","t":2.5,"s":0.653,"c":1},{"p":"p","g":"H","t":2.85,"s":0.61,"c":1},{"p":"p","g":"H","t":3.15,"s":0.565,"c":1},{"p":"p","g":"H","t":3.5,"s":0.522,"c":1},{"p":"p","g":"H","t":3.8,"s":0.489,"c":1},{"p":"p","g":"H","t":4.1,"s":0.46,"c":1},{"p":"p","g":"H","t":4.3,"s":0.44,"c":1},{"p":"p","g":"H","t":4.6,"s":0.4,"c":1},{"p":"p","g":"H","t":4.9,"s":0.358,"c":1},{"p":"p","g":"H","t":5.2,"s":0.342,"c":1},{"p":"p","g":"H","t":5.5,"s":0.322,"c":1},{"p":"p","g":"H","t":5.9,"s":0.322,"c":1},{"p":"p","g":"H","t":6.3,"s":0.322,"c":1},{"p":"p","g":"H","t":6.7,"s":0.322,"c":1},{"p":"p","g":"H","t":7.1,"s":0.322,"c":1},{"p":"p","g":"H","t":7.15,"s":0.233,"c":0},{"p":"p","g":"H","t":7.8,"s":0.233,"c":1},{"p":"p","g":"H","t":9.1,"s":0.233,"c":1},{"p":"p","g":"H","t":9.25,"s":0.154,"c":0},{"p":"p","g":"H","t":10.0,"s":0.154,"c":1},{"p":"p","g":"H","t":19.3,"s":0.154,"c":1},
{"p":"p","g":"L","t":0,"s":1,"c":0},{"p":"p","g":"L","t":0.45,"s":0.97,"c":1},{"p":"p","g":"L","t":0.75,"s":0.926,"c":1},{"p":"p","g":"L","t":1.1,"s":0.882,"c":1},{"p":"p","g":"L","t":1.4,"s":0.86,"c":1},{"p":"p","g":"L","t":1.7,"s":0.817,"c":1},{"p":"p","g":"L","t":2.05,"s":0.773,"c":1},{"p":"p","g":"L","t":2.35,"s":0.73,"c":1},{"p":"p","g":"L","t":2.7,"s":0.686,"c":1},{"p":"p","g":"L","t":3.0,"s":0.675,"c":1},{"p":"p","g":"L","t":3.3,"s":0.62,"c":1},{"p":"p","g":"L","t":3.65,"s":0.588,"c":1},{"p":"p","g":"L","t":3.95,"s":0.57,"c":1},{"p":"p","g":"L","t":4.2,"s":0.533,"c":1},{"p":"p","g":"L","t":4.45,"s":0.5,"c":1},{"p":"p","g":"L","t":4.75,"s":0.483,"c":1},{"p":"p","g":"L","t":5.1,"s":0.455,"c":1},{"p":"p","g":"L","t":5.5,"s":0.455,"c":1},{"p":"p","g":"L","t":5.9,"s":0.44,"c":1},{"p":"p","g":"L","t":6.4,"s":0.44,"c":1},{"p":"p","g":"L","t":6.9,"s":0.44,"c":1},{"p":"p","g":"L","t":7.4,"s":0.413,"c":1},{"p":"p","g":"L","t":7.9,"s":0.413,"c":1},{"p":"p","g":"L","t":8.6,"s":0.38,"c":1},{"p":"p","g":"L","t":8.75,"s":0.342,"c":0},{"p":"p","g":"L","t":10.0,"s":0.342,"c":1},{"p":"p","g":"L","t":10.5,"s":0.342,"c":1},{"p":"p","g":"L","t":13.1,"s":0.342,"c":1},{"p":"p","g":"L","t":13.55,"s":0.254,"c":0},{"p":"p","g":"L","t":18.4,"s":0.254,"c":1},{"p":"p","g":"L","t":19.9,"s":0.254,"c":1},

{"p":"q","g":"H","t":0,"s":1,"c":0},{"p":"q","g":"H","t":0.22,"s":0.964,"c":1},{"p":"q","g":"H","t":0.46,"s":0.932,"c":1},{"p":"q","g":"H","t":0.7,"s":0.889,"c":1},{"p":"q","g":"H","t":0.94,"s":0.856,"c":1},{"p":"q","g":"H","t":1.26,"s":0.79,"c":1},{"p":"q","g":"H","t":1.58,"s":0.748,"c":1},{"p":"q","g":"H","t":1.9,"s":0.705,"c":1},{"p":"q","g":"H","t":2.2,"s":0.673,"c":1},{"p":"q","g":"H","t":2.53,"s":0.64,"c":1},{"p":"q","g":"H","t":2.77,"s":0.602,"c":1},{"p":"q","g":"H","t":3.0,"s":0.575,"c":1},{"p":"q","g":"H","t":3.25,"s":0.532,"c":1},{"p":"q","g":"H","t":3.5,"s":0.489,"c":1},{"p":"q","g":"H","t":3.8,"s":0.468,"c":1},{"p":"q","g":"H","t":4.04,"s":0.446,"c":1},{"p":"q","g":"H","t":4.2,"s":0.392,"c":0},{"p":"q","g":"H","t":4.52,"s":0.36,"c":1},{"p":"q","g":"H","t":4.76,"s":0.338,"c":1},{"p":"q","g":"H","t":4.92,"s":0.327,"c":1},{"p":"q","g":"H","t":5.07,"s":0.31,"c":1},{"p":"q","g":"H","t":5.6,"s":0.31,"c":1},{"p":"q","g":"H","t":6.0,"s":0.31,"c":1},{"p":"q","g":"H","t":6.5,"s":0.284,"c":0},{"p":"q","g":"H","t":7.15,"s":0.284,"c":1},{"p":"q","g":"H","t":7.22,"s":0.246,"c":0},{"p":"q","g":"H","t":7.8,"s":0.246,"c":1},{"p":"q","g":"H","t":8.33,"s":0.246,"c":1},{"p":"q","g":"H","t":9.2,"s":0.198,"c":0},{"p":"q","g":"H","t":10.0,"s":0.198,"c":1},{"p":"q","g":"H","t":13.6,"s":0.133,"c":0},{"p":"q","g":"H","t":18.45,"s":0.133,"c":1},{"p":"q","g":"H","t":19.87,"s":0.133,"c":1},
{"p":"q","g":"L","t":0,"s":1,"c":0},{"p":"q","g":"L","t":0.3,"s":0.975,"c":1},{"p":"q","g":"L","t":0.62,"s":0.943,"c":1},{"p":"q","g":"L","t":0.94,"s":0.92,"c":1},{"p":"q","g":"L","t":1.26,"s":0.889,"c":1},{"p":"q","g":"L","t":1.58,"s":0.856,"c":1},{"p":"q","g":"L","t":1.9,"s":0.824,"c":1},{"p":"q","g":"L","t":2.13,"s":0.78,"c":1},{"p":"q","g":"L","t":2.37,"s":0.737,"c":1},{"p":"q","g":"L","t":2.6,"s":0.705,"c":1},{"p":"q","g":"L","t":2.77,"s":0.678,"c":1},{"p":"q","g":"L","t":3.17,"s":0.667,"c":1},{"p":"q","g":"L","t":3.4,"s":0.635,"c":1},{"p":"q","g":"L","t":3.56,"s":0.607,"c":1},{"p":"q","g":"L","t":3.88,"s":0.59,"c":1},{"p":"q","g":"L","t":4.28,"s":0.56,"c":1},{"p":"q","g":"L","t":4.68,"s":0.52,"c":1},{"p":"q","g":"L","t":5.0,"s":0.477,"c":1},{"p":"q","g":"L","t":5.4,"s":0.477,"c":1},{"p":"q","g":"L","t":5.8,"s":0.477,"c":1},{"p":"q","g":"L","t":6.03,"s":0.457,"c":1},{"p":"q","g":"L","t":6.5,"s":0.457,"c":1},{"p":"q","g":"L","t":6.9,"s":0.457,"c":1},{"p":"q","g":"L","t":7.22,"s":0.424,"c":1},{"p":"q","g":"L","t":7.33,"s":0.387,"c":1},{"p":"q","g":"L","t":7.8,"s":0.387,"c":1},{"p":"q","g":"L","t":8.4,"s":0.387,"c":1},{"p":"q","g":"L","t":8.66,"s":0.349,"c":0},{"p":"q","g":"L","t":8.73,"s":0.338,"c":0},{"p":"q","g":"L","t":9.0,"s":0.338,"c":1},{"p":"q","g":"L","t":10.3,"s":0.338,"c":1},{"p":"q","g":"L","t":10.8,"s":0.338,"c":1},{"p":"q","g":"L","t":13.1,"s":0.338,"c":1},{"p":"q","g":"L","t":13.7,"s":0.338,"c":1},{"p":"q","g":"L","t":19.4,"s":0.338,"c":1}
]},
"columns": 4,
"spacing": {"row": 22, "column": 23},
"resolve": {"scale": {"color": "independent", "strokeDash": "independent"}, "legend": {"color": "independent", "strokeDash": "independent"}},
"concat": [
{"title": {"text": "a", "fontSize": 38, "anchor": "start", "frame": "bounds", "offset": -19, "dy": 40, "baseline": "alphabetic"}, "resolve": {"scale": {"color": "independent", "strokeDash": "independent"}}, "vconcat": [{"title": "Survival curve (p=0.006)", "width": 412, "height": 330, "transform": [{"filter": "datum.p == 'a'"}], "layer": [
 {"mark": {"type": "line", "interpolate": "step-after", "strokeWidth": 2}, "encoding": {"x": {"field": "t", "type": "quantitative", "scale": {"domain": [0, 20.6], "nice": false}, "title": "Time (year)"}, "y": {"field": "s", "type": "quantitative", "scale": {"domain": [-0.04, 1.04], "nice": false, "zero": false}, "axis": {"format": ".1f"}, "title": "Survival rate"}, "color": {"field": "g", "type": "nominal", "scale": {"domain": ["H", "L"], "range": ["#ff0000", "#0000ff"]}, "legend": {"title": null, "labelExpr": "datum.value == 'H' ? 'cg08047907 Hypermethylation' : 'cg08047907 hypomethylation'"}}, "strokeDash": {"field": "g", "type": "nominal", "scale": {"domain": ["H", "L"], "range": [[8, 5], [2, 4]]}, "legend": {"title": null, "labelExpr": "datum.value == 'H' ? 'cg08047907 Hypermethylation' : 'cg08047907 hypomethylation'"}}}},
 {"transform": [{"filter": "datum.c == 1"}], "mark": {"type": "point", "shape": "M-1,0L1,0M0,-1L0,1", "filled": false, "size": 90, "strokeWidth": 1.5, "opacity": 1}, "encoding": {"x": {"field": "t", "type": "quantitative"}, "y": {"field": "s", "type": "quantitative"}, "color": {"field": "g", "type": "nominal", "legend": null}}}
]}]},
{"title": {"text": "b", "fontSize": 38, "anchor": "start", "frame": "bounds", "offset": -19, "dy": 40, "baseline": "alphabetic"}, "resolve": {"scale": {"color": "independent", "strokeDash": "independent"}}, "vconcat": [{"title": "Survival curve (p=0.04)", "width": 412, "height": 330, "transform": [{"filter": "datum.p == 'b'"}], "layer": [
 {"mark": {"type": "line", "interpolate": "step-after", "strokeWidth": 2}, "encoding": {"x": {"field": "t", "type": "quantitative", "scale": {"domain": [0, 20.6], "nice": false}, "title": "Time (year)"}, "y": {"field": "s", "type": "quantitative", "scale": {"domain": [-0.04, 1.04], "nice": false, "zero": false}, "axis": {"format": ".1f"}, "title": "Survival rate"}, "color": {"field": "g", "type": "nominal", "scale": {"domain": ["H", "L"], "range": ["#ff0000", "#0000ff"]}, "legend": {"title": null, "labelExpr": "datum.value == 'H' ? 'cg00100121 Hypermethylation' : 'cg00100121 hypomethylation'"}}, "strokeDash": {"field": "g", "type": "nominal", "scale": {"domain": ["H", "L"], "range": [[8, 5], [2, 4]]}, "legend": {"title": null, "labelExpr": "datum.value == 'H' ? 'cg00100121 Hypermethylation' : 'cg00100121 hypomethylation'"}}}},
 {"transform": [{"filter": "datum.c == 1"}], "mark": {"type": "point", "shape": "M-1,0L1,0M0,-1L0,1", "filled": false, "size": 90, "strokeWidth": 1.5, "opacity": 1}, "encoding": {"x": {"field": "t", "type": "quantitative"}, "y": {"field": "s", "type": "quantitative"}, "color": {"field": "g", "type": "nominal", "legend": null}}}
]}]},
{"title": {"text": "c", "fontSize": 38, "anchor": "start", "frame": "bounds", "offset": -19, "dy": 40, "baseline": "alphabetic"}, "resolve": {"scale": {"color": "independent", "strokeDash": "independent"}}, "vconcat": [{"title": "Survival curve (p=0.032)", "width": 412, "height": 330, "transform": [{"filter": "datum.p == 'c'"}], "layer": [
 {"mark": {"type": "line", "interpolate": "step-after", "strokeWidth": 2}, "encoding": {"x": {"field": "t", "type": "quantitative", "scale": {"domain": [0, 20.6], "nice": false}, "title": "Time (year)"}, "y": {"field": "s", "type": "quantitative", "scale": {"domain": [-0.04, 1.04], "nice": false, "zero": false}, "axis": {"format": ".1f"}, "title": "Survival rate"}, "color": {"field": "g", "type": "nominal", "scale": {"domain": ["H", "L"], "range": ["#ff0000", "#0000ff"]}, "legend": {"title": null, "labelExpr": "datum.value == 'H' ? 'cg12460071 Hypermethylation' : 'cg12460071 hypomethylation'"}}, "strokeDash": {"field": "g", "type": "nominal", "scale": {"domain": ["H", "L"], "range": [[8, 5], [2, 4]]}, "legend": {"title": null, "labelExpr": "datum.value == 'H' ? 'cg12460071 Hypermethylation' : 'cg12460071 hypomethylation'"}}}},
 {"transform": [{"filter": "datum.c == 1"}], "mark": {"type": "point", "shape": "M-1,0L1,0M0,-1L0,1", "filled": false, "size": 90, "strokeWidth": 1.5, "opacity": 1}, "encoding": {"x": {"field": "t", "type": "quantitative"}, "y": {"field": "s", "type": "quantitative"}, "color": {"field": "g", "type": "nominal", "legend": null}}}
]}]},
{"title": {"text": "d", "fontSize": 38, "anchor": "start", "frame": "bounds", "offset": -19, "dy": 40, "baseline": "alphabetic"}, "resolve": {"scale": {"color": "independent", "strokeDash": "independent"}}, "vconcat": [{"title": "Survival curve (p=0.007)", "width": 412, "height": 330, "transform": [{"filter": "datum.p == 'd'"}], "layer": [
 {"mark": {"type": "line", "interpolate": "step-after", "strokeWidth": 2}, "encoding": {"x": {"field": "t", "type": "quantitative", "scale": {"domain": [0, 20.6], "nice": false}, "title": "Time (year)"}, "y": {"field": "s", "type": "quantitative", "scale": {"domain": [-0.04, 1.04], "nice": false, "zero": false}, "axis": {"format": ".1f"}, "title": "Survival rate"}, "color": {"field": "g", "type": "nominal", "scale": {"domain": ["H", "L"], "range": ["#ff0000", "#0000ff"]}, "legend": {"title": null, "labelExpr": "datum.value == 'H' ? 'cg00002719 Hypermethylation' : 'cg00002719 hypomethylation'"}}, "strokeDash": {"field": "g", "type": "nominal", "scale": {"domain": ["H", "L"], "range": [[8, 5], [2, 4]]}, "legend": {"title": null, "labelExpr": "datum.value == 'H' ? 'cg00002719 Hypermethylation' : 'cg00002719 hypomethylation'"}}}},
 {"transform": [{"filter": "datum.c == 1"}], "mark": {"type": "point", "shape": "M-1,0L1,0M0,-1L0,1", "filled": false, "size": 90, "strokeWidth": 1.5, "opacity": 1}, "encoding": {"x": {"field": "t", "type": "quantitative"}, "y": {"field": "s", "type": "quantitative"}, "color": {"field": "g", "type": "nominal", "legend": null}}}
]}]},
{"title": {"text": "e", "fontSize": 38, "anchor": "start", "frame": "bounds", "offset": -19, "dy": 40, "baseline": "alphabetic"}, "resolve": {"scale": {"color": "independent", "strokeDash": "independent"}}, "vconcat": [{"title": "Survival curve (p=0.003)", "width": 412, "height": 330, "transform": [{"filter": "datum.p == 'e'"}], "layer": [
 {"mark": {"type": "line", "interpolate": "step-after", "strokeWidth": 2}, "encoding": {"x": {"field": "t", "type": "quantitative", "scale": {"domain": [0, 20.6], "nice": false}, "title": "Time (year)"}, "y": {"field": "s", "type": "quantitative", "scale": {"domain": [-0.04, 1.04], "nice": false, "zero": false}, "axis": {"format": ".1f"}, "title": "Survival rate"}, "color": {"field": "g", "type": "nominal", "scale": {"domain": ["H", "L"], "range": ["#ff0000", "#0000ff"]}, "legend": {"title": null, "labelExpr": "datum.value == 'H' ? 'cg25464921 Hypermethylation' : 'cg25464921 hypomethylation'"}}, "strokeDash": {"field": "g", "type": "nominal", "scale": {"domain": ["H", "L"], "range": [[8, 5], [2, 4]]}, "legend": {"title": null, "labelExpr": "datum.value == 'H' ? 'cg25464921 Hypermethylation' : 'cg25464921 hypomethylation'"}}}},
 {"transform": [{"filter": "datum.c == 1"}], "mark": {"type": "point", "shape": "M-1,0L1,0M0,-1L0,1", "filled": false, "size": 90, "strokeWidth": 1.5, "opacity": 1}, "encoding": {"x": {"field": "t", "type": "quantitative"}, "y": {"field": "s", "type": "quantitative"}, "color": {"field": "g", "type": "nominal", "legend": null}}}
]}]},
{"title": {"text": "f", "fontSize": 38, "anchor": "start", "frame": "bounds", "offset": -19, "dy": 40, "baseline": "alphabetic"}, "resolve": {"scale": {"color": "independent", "strokeDash": "independent"}}, "vconcat": [{"title": "Survival curve (p=0.013)", "width": 412, "height": 330, "transform": [{"filter": "datum.p == 'f'"}], "layer": [
 {"mark": {"type": "line", "interpolate": "step-after", "strokeWidth": 2}, "encoding": {"x": {"field": "t", "type": "quantitative", "scale": {"domain": [0, 20.6], "nice": false}, "title": "Time (year)"}, "y": {"field": "s", "type": "quantitative", "scale": {"domain": [-0.04, 1.04], "nice": false, "zero": false}, "axis": {"format": ".1f"}, "title": "Survival rate"}, "color": {"field": "g", "type": "nominal", "scale": {"domain": ["H", "L"], "range": ["#ff0000", "#0000ff"]}, "legend": {"title": null, "labelExpr": "datum.value == 'H' ? 'cg08104202 Hypermethylation' : 'cg08104202 hypomethylation'"}}, "strokeDash": {"field": "g", "type": "nominal", "scale": {"domain": ["H", "L"], "range": [[8, 5], [2, 4]]}, "legend": {"title": null, "labelExpr": "datum.value == 'H' ? 'cg08104202 Hypermethylation' : 'cg08104202 hypomethylation'"}}}},
 {"transform": [{"filter": "datum.c == 1"}], "mark": {"type": "point", "shape": "M-1,0L1,0M0,-1L0,1", "filled": false, "size": 90, "strokeWidth": 1.5, "opacity": 1}, "encoding": {"x": {"field": "t", "type": "quantitative"}, "y": {"field": "s", "type": "quantitative"}, "color": {"field": "g", "type": "nominal", "legend": null}}}
]}]},
{"title": {"text": "g", "fontSize": 38, "anchor": "start", "frame": "bounds", "offset": -19, "dy": 40, "baseline": "alphabetic"}, "resolve": {"scale": {"color": "independent", "strokeDash": "independent"}}, "vconcat": [{"title": "Survival curve (p=0.012)", "width": 412, "height": 330, "transform": [{"filter": "datum.p == 'g'"}], "layer": [
 {"mark": {"type": "line", "interpolate": "step-after", "strokeWidth": 2}, "encoding": {"x": {"field": "t", "type": "quantitative", "scale": {"domain": [0, 20.6], "nice": false}, "title": "Time (year)"}, "y": {"field": "s", "type": "quantitative", "scale": {"domain": [-0.04, 1.04], "nice": false, "zero": false}, "axis": {"format": ".1f"}, "title": "Survival rate"}, "color": {"field": "g", "type": "nominal", "scale": {"domain": ["H", "L"], "range": ["#ff0000", "#0000ff"]}, "legend": {"title": null, "labelExpr": "datum.value == 'H' ? 'cg23818870 Hypermethylation' : 'cg23818870 hypomethylation'"}}, "strokeDash": {"field": "g", "type": "nominal", "scale": {"domain": ["H", "L"], "range": [[8, 5], [2, 4]]}, "legend": {"title": null, "labelExpr": "datum.value == 'H' ? 'cg23818870 Hypermethylation' : 'cg23818870 hypomethylation'"}}}},
 {"transform": [{"filter": "datum.c == 1"}], "mark": {"type": "point", "shape": "M-1,0L1,0M0,-1L0,1", "filled": false, "size": 90, "strokeWidth": 1.5, "opacity": 1}, "encoding": {"x": {"field": "t", "type": "quantitative"}, "y": {"field": "s", "type": "quantitative"}, "color": {"field": "g", "type": "nominal", "legend": null}}}
]}]},
{"title": {"text": "h", "fontSize": 38, "anchor": "start", "frame": "bounds", "offset": -19, "dy": 40, "baseline": "alphabetic"}, "resolve": {"scale": {"color": "independent", "strokeDash": "independent"}}, "vconcat": [{"title": "Survival curve (p=0.011)", "width": 412, "height": 330, "transform": [{"filter": "datum.p == 'h'"}], "layer": [
 {"mark": {"type": "line", "interpolate": "step-after", "strokeWidth": 2}, "encoding": {"x": {"field": "t", "type": "quantitative", "scale": {"domain": [0, 20.6], "nice": false}, "title": "Time (year)"}, "y": {"field": "s", "type": "quantitative", "scale": {"domain": [-0.04, 1.04], "nice": false, "zero": false}, "axis": {"format": ".1f"}, "title": "Survival rate"}, "color": {"field": "g", "type": "nominal", "scale": {"domain": ["H", "L"], "range": ["#ff0000", "#0000ff"]}, "legend": {"title": null, "labelExpr": "datum.value == 'H' ? 'cg09671955 Hypermethylation' : 'cg09671955 hypomethylation'"}}, "strokeDash": {"field": "g", "type": "nominal", "scale": {"domain": ["H", "L"], "range": [[8, 5], [2, 4]]}, "legend": {"title": null, "labelExpr": "datum.value == 'H' ? 'cg09671955 Hypermethylation' : 'cg09671955 hypomethylation'"}}}},
 {"transform": [{"filter": "datum.c == 1"}], "mark": {"type": "point", "shape": "M-1,0L1,0M0,-1L0,1", "filled": false, "size": 90, "strokeWidth": 1.5, "opacity": 1}, "encoding": {"x": {"field": "t", "type": "quantitative"}, "y": {"field": "s", "type": "quantitative"}, "color": {"field": "g", "type": "nominal", "legend": null}}}
]}]},
{"title": {"text": "i", "fontSize": 38, "anchor": "start", "frame": "bounds", "offset": -19, "dy": 40, "baseline": "alphabetic"}, "resolve": {"scale": {"color": "independent", "strokeDash": "independent"}}, "vconcat": [{"title": "Survival curve (p=0)", "width": 412, "height": 330, "transform": [{"filter": "datum.p == 'i'"}], "layer": [
 {"mark": {"type": "line", "interpolate": "step-after", "strokeWidth": 2}, "encoding": {"x": {"field": "t", "type": "quantitative", "scale": {"domain": [0, 20.6], "nice": false}, "title": "Time (year)"}, "y": {"field": "s", "type": "quantitative", "scale": {"domain": [-0.04, 1.04], "nice": false, "zero": false}, "axis": {"format": ".1f"}, "title": "Survival rate"}, "color": {"field": "g", "type": "nominal", "scale": {"domain": ["H", "L"], "range": ["#ff0000", "#0000ff"]}, "legend": {"title": null, "labelExpr": "datum.value == 'H' ? 'cg16998150 Hypermethylation' : 'cg16998150 hypomethylation'"}}, "strokeDash": {"field": "g", "type": "nominal", "scale": {"domain": ["H", "L"], "range": [[8, 5], [2, 4]]}, "legend": {"title": null, "labelExpr": "datum.value == 'H' ? 'cg16998150 Hypermethylation' : 'cg16998150 hypomethylation'"}}}},
 {"transform": [{"filter": "datum.c == 1"}], "mark": {"type": "point", "shape": "M-1,0L1,0M0,-1L0,1", "filled": false, "size": 90, "strokeWidth": 1.5, "opacity": 1}, "encoding": {"x": {"field": "t", "type": "quantitative"}, "y": {"field": "s", "type": "quantitative"}, "color": {"field": "g", "type": "nominal", "legend": null}}}
]}]},
{"title": {"text": "j", "fontSize": 38, "anchor": "start", "frame": "bounds", "offset": -19, "dy": 40, "baseline": "alphabetic"}, "resolve": {"scale": {"color": "independent", "strokeDash": "independent"}}, "vconcat": [{"title": "Survival curve (p=0.011)", "width": 412, "height": 330, "transform": [{"filter": "datum.p == 'j'"}], "layer": [
 {"mark": {"type": "line", "interpolate": "step-after", "strokeWidth": 2}, "encoding": {"x": {"field": "t", "type": "quantitative", "scale": {"domain": [0, 20.6], "nice": false}, "title": "Time (year)"}, "y": {"field": "s", "type": "quantitative", "scale": {"domain": [-0.04, 1.04], "nice": false, "zero": false}, "axis": {"format": ".1f"}, "title": "Survival rate"}, "color": {"field": "g", "type": "nominal", "scale": {"domain": ["H", "L"], "range": ["#ff0000", "#0000ff"]}, "legend": {"title": null, "labelExpr": "datum.value == 'H' ? 'cg14826711 Hypermethylation' : 'cg14826711 hypomethylation'"}}, "strokeDash": {"field": "g", "type": "nominal", "scale": {"domain": ["H", "L"], "range": [[8, 5], [2, 4]]}, "legend": {"title": null, "labelExpr": "datum.value == 'H' ? 'cg14826711 Hypermethylation' : 'cg14826711 hypomethylation'"}}}},
 {"transform": [{"filter": "datum.c == 1"}], "mark": {"type": "point", "shape": "M-1,0L1,0M0,-1L0,1", "filled": false, "size": 90, "strokeWidth": 1.5, "opacity": 1}, "encoding": {"x": {"field": "t", "type": "quantitative"}, "y": {"field": "s", "type": "quantitative"}, "color": {"field": "g", "type": "nominal", "legend": null}}}
]}]},
{"title": {"text": "k", "fontSize": 38, "anchor": "start", "frame": "bounds", "offset": -19, "dy": 40, "baseline": "alphabetic"}, "resolve": {"scale": {"color": "independent", "strokeDash": "independent"}}, "vconcat": [{"title": "Survival curve (p=0.018)", "width": 412, "height": 330, "transform": [{"filter": "datum.p == 'k'"}], "layer": [
 {"mark": {"type": "line", "interpolate": "step-after", "strokeWidth": 2}, "encoding": {"x": {"field": "t", "type": "quantitative", "scale": {"domain": [0, 20.6], "nice": false}, "title": "Time (year)"}, "y": {"field": "s", "type": "quantitative", "scale": {"domain": [-0.04, 1.04], "nice": false, "zero": false}, "axis": {"format": ".1f"}, "title": "Survival rate"}, "color": {"field": "g", "type": "nominal", "scale": {"domain": ["H", "L"], "range": ["#ff0000", "#0000ff"]}, "legend": {"title": null, "labelExpr": "datum.value == 'H' ? 'cg16136262 Hypermethylation' : 'cg16136262 hypomethylation'"}}, "strokeDash": {"field": "g", "type": "nominal", "scale": {"domain": ["H", "L"], "range": [[8, 5], [2, 4]]}, "legend": {"title": null, "labelExpr": "datum.value == 'H' ? 'cg16136262 Hypermethylation' : 'cg16136262 hypomethylation'"}}}},
 {"transform": [{"filter": "datum.c == 1"}], "mark": {"type": "point", "shape": "M-1,0L1,0M0,-1L0,1", "filled": false, "size": 90, "strokeWidth": 1.5, "opacity": 1}, "encoding": {"x": {"field": "t", "type": "quantitative"}, "y": {"field": "s", "type": "quantitative"}, "color": {"field": "g", "type": "nominal", "legend": null}}}
]}]},
{"title": {"text": "l", "fontSize": 38, "anchor": "start", "frame": "bounds", "offset": -19, "dy": 40, "baseline": "alphabetic"}, "resolve": {"scale": {"color": "independent", "strokeDash": "independent"}}, "vconcat": [{"title": "Survival curve (p=0.007)", "width": 412, "height": 330, "transform": [{"filter": "datum.p == 'l'"}], "layer": [
 {"mark": {"type": "line", "interpolate": "step-after", "strokeWidth": 2}, "encoding": {"x": {"field": "t", "type": "quantitative", "scale": {"domain": [0, 20.6], "nice": false}, "title": "Time (year)"}, "y": {"field": "s", "type": "quantitative", "scale": {"domain": [-0.04, 1.04], "nice": false, "zero": false}, "axis": {"format": ".1f"}, "title": "Survival rate"}, "color": {"field": "g", "type": "nominal", "scale": {"domain": ["H", "L"], "range": ["#ff0000", "#0000ff"]}, "legend": {"title": null, "labelExpr": "datum.value == 'H' ? 'cg24808280 Hypermethylation' : 'cg24808280 hypomethylation'"}}, "strokeDash": {"field": "g", "type": "nominal", "scale": {"domain": ["H", "L"], "range": [[8, 5], [2, 4]]}, "legend": {"title": null, "labelExpr": "datum.value == 'H' ? 'cg24808280 Hypermethylation' : 'cg24808280 hypomethylation'"}}}},
 {"transform": [{"filter": "datum.c == 1"}], "mark": {"type": "point", "shape": "M-1,0L1,0M0,-1L0,1", "filled": false, "size": 90, "strokeWidth": 1.5, "opacity": 1}, "encoding": {"x": {"field": "t", "type": "quantitative"}, "y": {"field": "s", "type": "quantitative"}, "color": {"field": "g", "type": "nominal", "legend": null}}}
]}]},
{"title": {"text": "m", "fontSize": 38, "anchor": "start", "frame": "bounds", "offset": -19, "dy": 40, "baseline": "alphabetic"}, "resolve": {"scale": {"color": "independent", "strokeDash": "independent"}}, "vconcat": [{"title": "Survival curve (p=0.002)", "width": 412, "height": 330, "transform": [{"filter": "datum.p == 'm'"}], "layer": [
 {"mark": {"type": "line", "interpolate": "step-after", "strokeWidth": 2}, "encoding": {"x": {"field": "t", "type": "quantitative", "scale": {"domain": [0, 20.6], "nice": false}, "title": "Time (year)"}, "y": {"field": "s", "type": "quantitative", "scale": {"domain": [-0.04, 1.04], "nice": false, "zero": false}, "axis": {"format": ".1f"}, "title": "Survival rate"}, "color": {"field": "g", "type": "nominal", "scale": {"domain": ["H", "L"], "range": ["#ff0000", "#0000ff"]}, "legend": {"title": null, "labelExpr": "datum.value == 'H' ? 'cg08785274 Hypermethylation' : 'cg08785274 hypomethylation'"}}, "strokeDash": {"field": "g", "type": "nominal", "scale": {"domain": ["H", "L"], "range": [[8, 5], [2, 4]]}, "legend": {"title": null, "labelExpr": "datum.value == 'H' ? 'cg08785274 Hypermethylation' : 'cg08785274 hypomethylation'"}}}},
 {"transform": [{"filter": "datum.c == 1"}], "mark": {"type": "point", "shape": "M-1,0L1,0M0,-1L0,1", "filled": false, "size": 90, "strokeWidth": 1.5, "opacity": 1}, "encoding": {"x": {"field": "t", "type": "quantitative"}, "y": {"field": "s", "type": "quantitative"}, "color": {"field": "g", "type": "nominal", "legend": null}}}
]}]},
{"title": {"text": "n", "fontSize": 38, "anchor": "start", "frame": "bounds", "offset": -19, "dy": 40, "baseline": "alphabetic"}, "resolve": {"scale": {"color": "independent", "strokeDash": "independent"}}, "vconcat": [{"title": "Survival curve (p=0.005)", "width": 412, "height": 330, "transform": [{"filter": "datum.p == 'n'"}], "layer": [
 {"mark": {"type": "line", "interpolate": "step-after", "strokeWidth": 2}, "encoding": {"x": {"field": "t", "type": "quantitative", "scale": {"domain": [0, 20.6], "nice": false}, "title": "Time (year)"}, "y": {"field": "s", "type": "quantitative", "scale": {"domain": [-0.04, 1.04], "nice": false, "zero": false}, "axis": {"format": ".1f"}, "title": "Survival rate"}, "color": {"field": "g", "type": "nominal", "scale": {"domain": ["H", "L"], "range": ["#ff0000", "#0000ff"]}, "legend": {"title": null, "labelExpr": "datum.value == 'H' ? 'cg17150246 Hypermethylation' : 'cg17150246 hypomethylation'"}}, "strokeDash": {"field": "g", "type": "nominal", "scale": {"domain": ["H", "L"], "range": [[8, 5], [2, 4]]}, "legend": {"title": null, "labelExpr": "datum.value == 'H' ? 'cg17150246 Hypermethylation' : 'cg17150246 hypomethylation'"}}}},
 {"transform": [{"filter": "datum.c == 1"}], "mark": {"type": "point", "shape": "M-1,0L1,0M0,-1L0,1", "filled": false, "size": 90, "strokeWidth": 1.5, "opacity": 1}, "encoding": {"x": {"field": "t", "type": "quantitative"}, "y": {"field": "s", "type": "quantitative"}, "color": {"field": "g", "type": "nominal", "legend": null}}}
]}]},
{"title": {"text": "o", "fontSize": 38, "anchor": "start", "frame": "bounds", "offset": -19, "dy": 40, "baseline": "alphabetic"}, "resolve": {"scale": {"color": "independent", "strokeDash": "independent"}}, "vconcat": [{"title": "Survival curve (p=0.001)", "width": 412, "height": 330, "transform": [{"filter": "datum.p == 'o'"}], "layer": [
 {"mark": {"type": "line", "interpolate": "step-after", "strokeWidth": 2}, "encoding": {"x": {"field": "t", "type": "quantitative", "scale": {"domain": [0, 20.6], "nice": false}, "title": "Time (year)"}, "y": {"field": "s", "type": "quantitative", "scale": {"domain": [-0.04, 1.04], "nice": false, "zero": false}, "axis": {"format": ".1f"}, "title": "Survival rate"}, "color": {"field": "g", "type": "nominal", "scale": {"domain": ["H", "L"], "range": ["#ff0000", "#0000ff"]}, "legend": {"title": null, "labelExpr": "datum.value == 'H' ? 'cg02957185 Hypermethylation' : 'cg02957185 hypomethylation'"}}, "strokeDash": {"field": "g", "type": "nominal", "scale": {"domain": ["H", "L"], "range": [[8, 5], [2, 4]]}, "legend": {"title": null, "labelExpr": "datum.value == 'H' ? 'cg02957185 Hypermethylation' : 'cg02957185 hypomethylation'"}}}},
 {"transform": [{"filter": "datum.c == 1"}], "mark": {"type": "point", "shape": "M-1,0L1,0M0,-1L0,1", "filled": false, "size": 90, "strokeWidth": 1.5, "opacity": 1}, "encoding": {"x": {"field": "t", "type": "quantitative"}, "y": {"field": "s", "type": "quantitative"}, "color": {"field": "g", "type": "nominal", "legend": null}}}
]}]},
{"title": {"text": "p", "fontSize": 38, "anchor": "start", "frame": "bounds", "offset": -19, "dy": 40, "baseline": "alphabetic"}, "resolve": {"scale": {"color": "independent", "strokeDash": "independent"}}, "vconcat": [{"title": "Survival curve (p=0.025)", "width": 412, "height": 330, "transform": [{"filter": "datum.p == 'p'"}], "layer": [
 {"mark": {"type": "line", "interpolate": "step-after", "strokeWidth": 2}, "encoding": {"x": {"field": "t", "type": "quantitative", "scale": {"domain": [0, 20.6], "nice": false}, "title": "Time (year)"}, "y": {"field": "s", "type": "quantitative", "scale": {"domain": [-0.04, 1.04], "nice": false, "zero": false}, "axis": {"format": ".1f"}, "title": "Survival rate"}, "color": {"field": "g", "type": "nominal", "scale": {"domain": ["H", "L"], "range": ["#ff0000", "#0000ff"]}, "legend": {"title": null, "labelExpr": "datum.value == 'H' ? 'cg23651323 Hypermethylation' : 'cg23651323 hypomethylation'"}}, "strokeDash": {"field": "g", "type": "nominal", "scale": {"domain": ["H", "L"], "range": [[8, 5], [2, 4]]}, "legend": {"title": null, "labelExpr": "datum.value == 'H' ? 'cg23651323 Hypermethylation' : 'cg23651323 hypomethylation'"}}}},
 {"transform": [{"filter": "datum.c == 1"}], "mark": {"type": "point", "shape": "M-1,0L1,0M0,-1L0,1", "filled": false, "size": 90, "strokeWidth": 1.5, "opacity": 1}, "encoding": {"x": {"field": "t", "type": "quantitative"}, "y": {"field": "s", "type": "quantitative"}, "color": {"field": "g", "type": "nominal", "legend": null}}}
]}]},
{"title": {"text": "q", "fontSize": 38, "anchor": "start", "frame": "bounds", "offset": -19, "dy": 40, "baseline": "alphabetic"}, "resolve": {"scale": {"color": "independent", "strokeDash": "independent"}}, "vconcat": [{"title": "Survival curve (p=0.006)", "width": 412, "height": 330, "transform": [{"filter": "datum.p == 'q'"}], "layer": [
 {"mark": {"type": "line", "interpolate": "step-after", "strokeWidth": 2}, "encoding": {"x": {"field": "t", "type": "quantitative", "scale": {"domain": [0, 20.6], "nice": false}, "title": "Time (year)"}, "y": {"field": "s", "type": "quantitative", "scale": {"domain": [-0.04, 1.04], "nice": false, "zero": false}, "axis": {"format": ".1f"}, "title": "Survival rate"}, "color": {"field": "g", "type": "nominal", "scale": {"domain": ["H", "L"], "range": ["#ff0000", "#0000ff"]}, "legend": {"title": null, "labelExpr": "datum.value == 'H' ? 'cg17972213 Hypermethylation' : 'cg17972213 hypomethylation'"}}, "strokeDash": {"field": "g", "type": "nominal", "scale": {"domain": ["H", "L"], "range": [[8, 5], [2, 4]]}, "legend": {"title": null, "labelExpr": "datum.value == 'H' ? 'cg17972213 Hypermethylation' : 'cg17972213 hypomethylation'"}}}},
 {"transform": [{"filter": "datum.c == 1"}], "mark": {"type": "point", "shape": "M-1,0L1,0M0,-1L0,1", "filled": false, "size": 90, "strokeWidth": 1.5, "opacity": 1}, "encoding": {"x": {"field": "t", "type": "quantitative"}, "y": {"field": "s", "type": "quantitative"}, "color": {"field": "g", "type": "nominal", "legend": null}}}
]}]}
]
}
